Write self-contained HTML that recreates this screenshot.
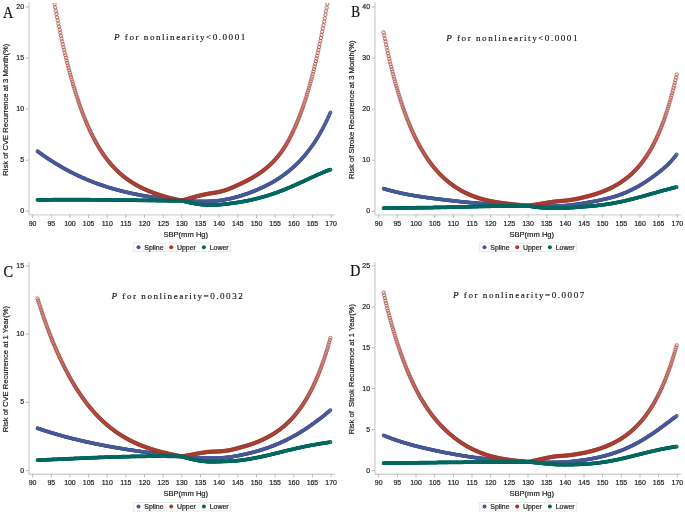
<!DOCTYPE html>
<html lang="en"><head><meta charset="utf-8"><title>SBP and risk of recurrence</title>
<style>
html,body{margin:0;padding:0;background:#fff}
body{width:685px;height:513px;overflow:hidden}
svg{display:block}
text{font-family:"Liberation Sans",sans-serif;fill:#1c1c1c;stroke:#1c1c1c;stroke-width:0.2px}
.t{font-size:6.95px}
.l{font-size:7.6px;white-space:pre}
.L{font-family:"Liberation Serif",serif;font-size:16px;fill:#111;stroke:#111;stroke-width:0.22px}
.p{font-family:"Liberation Serif",serif;font-size:9.1px;letter-spacing:1.52px;fill:#111;stroke:#111;stroke-width:0.14px}
</style></head><body>
<svg width="685" height="513" viewBox="0 0 685 513">
<defs><marker id="mb" markerWidth="6" markerHeight="6" refX="3" refY="3" markerUnits="userSpaceOnUse"><circle cx="3" cy="3" r="1.35" fill="#8f9bcb" fill-opacity="0.55" stroke="#445694" stroke-width="1.05"/></marker><marker id="mg" markerWidth="6" markerHeight="6" refX="3" refY="3" markerUnits="userSpaceOnUse"><circle cx="3" cy="3" r="1.35" fill="#5fa39d" fill-opacity="0.55" stroke="#01665E" stroke-width="1.05"/></marker><marker id="mr" markerWidth="6" markerHeight="6" refX="3" refY="3" markerUnits="userSpaceOnUse"><circle cx="3" cy="3" r="1.68" fill="#A23A2E" fill-opacity="0.10" stroke="#A23A2E" stroke-width="0.66"/></marker></defs>
<rect width="685" height="513" fill="#fff"/>
<g>
<clipPath id="cA"><rect x="28.9" y="3.0" width="309.1" height="212.2"/></clipPath>
<path d="M29.0 2.5V214.9H335.0" fill="none" stroke="#d4d4d6" stroke-width="1.4"/>
<path d="M32.6 214.7v3.2M51.3 214.7v3.2M69.9 214.7v3.2M88.6 214.7v3.2M107.2 214.7v3.2M125.9 214.7v3.2M144.5 214.7v3.2M163.2 214.7v3.2M181.8 214.7v3.2M200.5 214.7v3.2M219.1 214.7v3.2M237.8 214.7v3.2M256.5 214.7v3.2M275.1 214.7v3.2M293.8 214.7v3.2M312.4 214.7v3.2M331.1 214.7v3.2M28.9 211.2h-3.2M28.9 160.2h-3.2M28.9 109.1h-3.2M28.9 58.0h-3.2M28.9 7.0h-3.2" fill="none" stroke="#b0b0b0" stroke-width="0.9"/>
<text class="t" text-anchor="middle" transform="translate(32.60 225.70) scale(1.000 1)">90</text>
<text class="t" text-anchor="middle" transform="translate(51.26 225.70) scale(1.000 1)">95</text>
<text class="t" text-anchor="middle" transform="translate(69.91 225.70) scale(1.000 1)">100</text>
<text class="t" text-anchor="middle" transform="translate(88.56 225.70) scale(1.000 1)">105</text>
<text class="t" text-anchor="middle" transform="translate(107.22 225.70) scale(1.000 1)">110</text>
<text class="t" text-anchor="middle" transform="translate(125.88 225.70) scale(1.000 1)">115</text>
<text class="t" text-anchor="middle" transform="translate(144.53 225.70) scale(1.000 1)">120</text>
<text class="t" text-anchor="middle" transform="translate(163.19 225.70) scale(1.000 1)">125</text>
<text class="t" text-anchor="middle" transform="translate(181.84 225.70) scale(1.000 1)">130</text>
<text class="t" text-anchor="middle" transform="translate(200.49 225.70) scale(1.000 1)">135</text>
<text class="t" text-anchor="middle" transform="translate(219.15 225.70) scale(1.000 1)">140</text>
<text class="t" text-anchor="middle" transform="translate(237.80 225.70) scale(1.000 1)">145</text>
<text class="t" text-anchor="middle" transform="translate(256.46 225.70) scale(1.000 1)">150</text>
<text class="t" text-anchor="middle" transform="translate(275.12 225.70) scale(1.000 1)">155</text>
<text class="t" text-anchor="middle" transform="translate(293.77 225.70) scale(1.000 1)">160</text>
<text class="t" text-anchor="middle" transform="translate(312.43 225.70) scale(1.000 1)">165</text>
<text class="t" text-anchor="middle" transform="translate(331.08 225.70) scale(1.000 1)">170</text>
<text class="t" text-anchor="end" transform="translate(24.00 213.35) scale(1.000 1)">0</text>
<text class="t" text-anchor="end" transform="translate(24.00 162.28) scale(1.000 1)">5</text>
<text class="t" text-anchor="end" transform="translate(24.00 111.20) scale(1.000 1)">10</text>
<text class="t" text-anchor="end" transform="translate(24.00 60.13) scale(1.000 1)">15</text>
<text class="t" text-anchor="end" transform="translate(24.00 9.05) scale(1.000 1)">20</text>
<text class="l" text-anchor="middle" transform="translate(185.75 236.50) scale(1.000 1)">SBP(mm Hg)</text>
<text class="l" text-anchor="middle" transform="translate(7.50 109.70) rotate(-90) scale(1.000 1)">Risk of CVE Recurrence at 3 Month(%)</text>
<text class="L" x="3.0" y="17.8" textLength="10.2" lengthAdjust="spacingAndGlyphs">A</text>
<text class="p" x="114.0" y="40.3"><tspan font-style="italic">P</tspan> for nonlinearity&lt;0.0001</text>
<polyline clip-path="url(#cA)" points="37.45,151.19 38.08,151.65 38.72,152.12 39.35,152.57 39.99,153.03 40.62,153.48 41.26,153.94 41.89,154.38 42.52,154.83 43.16,155.27 43.79,155.71 44.43,156.15 45.06,156.59 45.7,157.02 46.33,157.45 46.96,157.88 47.6,158.3 48.23,158.72 48.87,159.14 49.5,159.56 50.14,159.97 50.77,160.38 51.4,160.79 52.04,161.2 52.67,161.6 53.31,162 53.94,162.4 54.58,162.79 55.21,163.19 55.84,163.58 56.48,163.96 57.11,164.35 57.75,164.73 58.38,165.11 59.02,165.49 59.65,165.86 60.28,166.23 60.92,166.6 61.55,166.97 62.19,167.33 62.82,167.69 63.46,168.05 64.09,168.41 64.72,168.76 65.36,169.11 65.99,169.46 66.63,169.81 67.26,170.15 67.9,170.49 68.53,170.83 69.16,171.16 69.8,171.49 70.43,171.82 71.07,172.15 71.7,172.48 72.34,172.8 72.97,173.12 73.6,173.43 74.24,173.75 74.87,174.06 75.51,174.37 76.14,174.68 76.78,174.98 77.41,175.29 78.04,175.59 78.68,175.88 79.31,176.18 79.95,176.47 80.58,176.76 81.21,177.05 81.85,177.34 82.48,177.62 83.12,177.9 83.75,178.18 84.39,178.45 85.02,178.73 85.65,179 86.29,179.27 86.92,179.53 87.56,179.8 88.19,180.06 88.83,180.32 89.46,180.58 90.09,180.83 90.73,181.09 91.36,181.34 92,181.59 92.63,181.83 93.27,182.08 93.9,182.32 94.53,182.56 95.17,182.8 95.8,183.03 96.44,183.27 97.07,183.5 97.71,183.73 98.34,183.96 98.97,184.18 99.61,184.41 100.24,184.63 100.88,184.85 101.51,185.06 102.15,185.28 102.78,185.49 103.41,185.7 104.05,185.91 104.68,186.12 105.32,186.33 105.95,186.53 106.59,186.73 107.22,186.93 107.85,187.13 108.49,187.33 109.12,187.52 109.76,187.71 110.39,187.9 111.03,188.09 111.66,188.28 112.29,188.47 112.93,188.65 113.56,188.83 114.2,189.01 114.83,189.19 115.47,189.37 116.1,189.54 116.73,189.71 117.37,189.89 118,190.06 118.64,190.22 119.27,190.39 119.91,190.55 120.54,190.72 121.17,190.88 121.81,191.04 122.44,191.2 123.08,191.36 123.71,191.51 124.35,191.66 124.98,191.82 125.61,191.97 126.25,192.12 126.88,192.26 127.52,192.41 128.15,192.56 128.79,192.7 129.42,192.84 130.05,192.98 130.69,193.12 131.32,193.26 131.96,193.39 132.59,193.53 133.23,193.66 133.86,193.8 134.49,193.93 135.13,194.06 135.76,194.18 136.4,194.31 137.03,194.44 137.66,194.56 138.3,194.68 138.93,194.8 139.57,194.92 140.2,195.04 140.84,195.16 141.47,195.28 142.1,195.39 142.74,195.51 143.37,195.62 144.01,195.73 144.64,195.84 145.28,195.95 145.91,196.06 146.54,196.17 147.18,196.27 147.81,196.38 148.45,196.48 149.08,196.59 149.72,196.69 150.35,196.79 150.98,196.89 151.62,196.99 152.25,197.08 152.89,197.18 153.52,197.27 154.16,197.37 154.79,197.46 155.42,197.55 156.06,197.64 156.69,197.73 157.33,197.82 157.96,197.91 158.6,198 159.23,198.09 159.86,198.17 160.5,198.25 161.13,198.34 161.77,198.42 162.4,198.5 163.04,198.58 163.67,198.66 164.3,198.74 164.94,198.82 165.57,198.9 166.21,198.98 166.84,199.05 167.48,199.13 168.11,199.2 168.74,199.27 169.38,199.34 170.01,199.41 170.65,199.48 171.28,199.55 171.92,199.61 172.55,199.67 173.18,199.73 173.82,199.79 174.45,199.85 175.09,199.9 175.72,199.96 176.36,200.01 176.99,200.07 177.62,200.12 178.26,200.17 178.89,200.22 179.53,200.27 180.16,200.32 180.8,200.36 181.43,200.41 182.06,200.46 182.7,200.51 183.33,200.55 183.97,200.6 184.6,200.65 185.24,200.69 185.87,200.74 186.5,200.78 187.14,200.82 187.77,200.86 188.41,200.9 189.04,200.94 189.68,200.98 190.31,201.01 190.94,201.05 191.58,201.08 192.21,201.12 192.85,201.15 193.48,201.18 194.11,201.2 194.75,201.23 195.38,201.26 196.02,201.28 196.65,201.3 197.29,201.32 197.92,201.34 198.55,201.35 199.19,201.36 199.82,201.37 200.46,201.38 201.09,201.38 201.73,201.38 202.36,201.38 202.99,201.38 203.63,201.38 204.26,201.37 204.9,201.36 205.53,201.35 206.17,201.34 206.8,201.33 207.43,201.32 208.07,201.3 208.7,201.28 209.34,201.26 209.97,201.24 210.61,201.21 211.24,201.18 211.87,201.15 212.51,201.11 213.14,201.07 213.78,201.02 214.41,200.97 215.05,200.92 215.68,200.86 216.31,200.8 216.95,200.74 217.58,200.67 218.22,200.6 218.85,200.52 219.49,200.45 220.12,200.36 220.75,200.28 221.39,200.19 222.02,200.09 222.66,200 223.29,199.89 223.93,199.79 224.56,199.68 225.19,199.57 225.83,199.45 226.46,199.33 227.1,199.21 227.73,199.08 228.37,198.95 229,198.82 229.63,198.68 230.27,198.54 230.9,198.4 231.54,198.25 232.17,198.1 232.81,197.95 233.44,197.8 234.07,197.64 234.71,197.47 235.34,197.31 235.98,197.14 236.61,196.97 237.25,196.79 237.88,196.61 238.51,196.43 239.15,196.25 239.78,196.06 240.42,195.87 241.05,195.67 241.69,195.47 242.32,195.27 242.95,195.06 243.59,194.86 244.22,194.65 244.86,194.43 245.49,194.22 246.13,194 246.76,193.78 247.39,193.55 248.03,193.33 248.66,193.1 249.3,192.87 249.93,192.63 250.57,192.39 251.2,192.16 251.83,191.91 252.47,191.67 253.1,191.42 253.74,191.17 254.37,190.92 255,190.66 255.64,190.4 256.27,190.14 256.91,189.87 257.54,189.6 258.18,189.33 258.81,189.05 259.44,188.77 260.08,188.49 260.71,188.21 261.35,187.92 261.98,187.62 262.62,187.32 263.25,187.02 263.88,186.72 264.52,186.41 265.15,186.1 265.79,185.78 266.42,185.46 267.06,185.14 267.69,184.81 268.32,184.48 268.96,184.14 269.59,183.8 270.23,183.45 270.86,183.1 271.5,182.75 272.13,182.39 272.76,182.02 273.4,181.66 274.03,181.28 274.67,180.9 275.3,180.52 275.94,180.13 276.57,179.74 277.2,179.34 277.84,178.94 278.47,178.53 279.11,178.11 279.74,177.69 280.38,177.26 281.01,176.83 281.64,176.39 282.28,175.95 282.91,175.5 283.55,175.04 284.18,174.58 284.82,174.11 285.45,173.63 286.08,173.15 286.72,172.66 287.35,172.17 287.99,171.66 288.62,171.15 289.26,170.64 289.89,170.11 290.52,169.58 291.16,169.04 291.79,168.49 292.43,167.94 293.06,167.37 293.7,166.8 294.33,166.22 294.96,165.63 295.6,165.03 296.23,164.43 296.87,163.81 297.5,163.19 298.14,162.55 298.77,161.91 299.4,161.26 300.04,160.59 300.67,159.92 301.31,159.24 301.94,158.54 302.58,157.84 303.21,157.12 303.84,156.4 304.48,155.66 305.11,154.91 305.75,154.15 306.38,153.38 307.02,152.59 307.65,151.79 308.28,150.98 308.92,150.16 309.55,149.33 310.19,148.48 310.82,147.61 311.45,146.74 312.09,145.84 312.72,144.94 313.36,144.02 313.99,143.08 314.63,142.13 315.26,141.16 315.89,140.18 316.53,139.18 317.16,138.16 317.8,137.13 318.43,136.08 319.07,135.01 319.7,133.92 320.33,132.81 320.97,131.69 321.6,130.54 322.24,129.38 322.87,128.2 323.51,126.99 324.14,125.76 324.77,124.52 325.41,123.25 326.04,121.96 326.68,120.64 327.31,119.31 327.95,117.95 328.58,116.56 329.21,115.16 329.85,113.73 330.48,112.27" fill="none" stroke="none" marker-start="url(#mb)" marker-mid="url(#mb)" marker-end="url(#mb)"/>
<polyline clip-path="url(#cA)" points="54.58,4.07 55.21,7.44 55.84,10.77 56.48,14.05 57.11,17.29 57.75,20.47 58.38,23.61 59.02,26.71 59.65,29.75 60.28,32.76 60.92,35.71 61.55,38.63 62.19,41.5 62.82,44.32 63.46,47.11 64.09,49.85 64.72,52.55 65.36,55.21 65.99,57.82 66.63,60.4 67.26,62.93 67.9,65.43 68.53,67.88 69.16,70.3 69.8,72.67 70.43,75.01 71.07,77.31 71.7,79.57 72.34,81.79 72.97,83.98 73.6,86.14 74.24,88.25 74.87,90.34 75.51,92.38 76.14,94.4 76.78,96.38 77.41,98.32 78.04,100.23 78.68,102.11 79.31,103.96 79.95,105.77 80.58,107.56 81.21,109.31 81.85,111.03 82.48,112.73 83.12,114.39 83.75,116.03 84.39,117.63 85.02,119.21 85.65,120.76 86.29,122.28 86.92,123.78 87.56,125.25 88.19,126.69 88.83,128.11 89.46,129.5 90.09,130.86 90.73,132.21 91.36,133.52 92,134.82 92.63,136.09 93.27,137.34 93.9,138.56 94.53,139.76 95.17,140.94 95.8,142.1 96.44,143.24 97.07,144.36 97.71,145.45 98.34,146.53 98.97,147.58 99.61,148.62 100.24,149.63 100.88,150.63 101.51,151.61 102.15,152.57 102.78,153.52 103.41,154.44 104.05,155.35 104.68,156.24 105.32,157.12 105.95,157.97 106.59,158.81 107.22,159.64 107.85,160.45 108.49,161.25 109.12,162.02 109.76,162.79 110.39,163.54 111.03,164.28 111.66,165 112.29,165.71 112.93,166.41 113.56,167.09 114.2,167.77 114.83,168.42 115.47,169.07 116.1,169.71 116.73,170.33 117.37,170.94 118,171.54 118.64,172.14 119.27,172.71 119.91,173.28 120.54,173.84 121.17,174.39 121.81,174.93 122.44,175.46 123.08,175.98 123.71,176.49 124.35,177 124.98,177.49 125.61,177.97 126.25,178.45 126.88,178.92 127.52,179.38 128.15,179.83 128.79,180.27 129.42,180.71 130.05,181.14 130.69,181.56 131.32,181.97 131.96,182.38 132.59,182.78 133.23,183.18 133.86,183.56 134.49,183.94 135.13,184.32 135.76,184.68 136.4,185.05 137.03,185.4 137.66,185.75 138.3,186.09 138.93,186.43 139.57,186.76 140.2,187.09 140.84,187.41 141.47,187.73 142.1,188.04 142.74,188.35 143.37,188.65 144.01,188.95 144.64,189.24 145.28,189.52 145.91,189.81 146.54,190.09 147.18,190.36 147.81,190.63 148.45,190.89 149.08,191.15 149.72,191.41 150.35,191.66 150.98,191.91 151.62,192.16 152.25,192.4 152.89,192.64 153.52,192.88 154.16,193.11 154.79,193.34 155.42,193.57 156.06,193.79 156.69,194.01 157.33,194.23 157.96,194.44 158.6,194.65 159.23,194.86 159.86,195.07 160.5,195.27 161.13,195.47 161.77,195.67 162.4,195.86 163.04,196.06 163.67,196.25 164.3,196.44 164.94,196.63 165.57,196.82 166.21,197 166.84,197.18 167.48,197.36 168.11,197.54 168.74,197.71 169.38,197.88 170.01,198.05 170.65,198.21 171.28,198.37 171.92,198.53 172.55,198.68 173.18,198.83 173.82,198.98 174.45,199.12 175.09,199.26 175.72,199.4 176.36,199.53 176.99,199.66 177.62,199.79 178.26,199.91 178.89,200.04 179.53,200.16 180.16,200.28 180.8,200.39 181.43,200.51 182.06,200.53 182.7,200.35 183.33,200.17 183.97,199.98 184.6,199.8 185.24,199.61 185.87,199.43 186.5,199.24 187.14,199.06 187.77,198.88 188.41,198.69 189.04,198.51 189.68,198.33 190.31,198.15 190.94,197.96 191.58,197.78 192.21,197.6 192.85,197.43 193.48,197.25 194.11,197.07 194.75,196.9 195.38,196.72 196.02,196.55 196.65,196.38 197.29,196.21 197.92,196.04 198.55,195.88 199.19,195.72 199.82,195.56 200.46,195.41 201.09,195.26 201.73,195.12 202.36,194.97 202.99,194.83 203.63,194.7 204.26,194.56 204.9,194.43 205.53,194.3 206.17,194.17 206.8,194.05 207.43,193.93 208.07,193.81 208.7,193.69 209.34,193.58 209.97,193.47 210.61,193.36 211.24,193.25 211.87,193.15 212.51,193.05 213.14,192.95 213.78,192.86 214.41,192.76 215.05,192.66 215.68,192.56 216.31,192.45 216.95,192.34 217.58,192.23 218.22,192.11 218.85,191.98 219.49,191.84 220.12,191.7 220.75,191.54 221.39,191.38 222.02,191.21 222.66,191.03 223.29,190.84 223.93,190.64 224.56,190.44 225.19,190.24 225.83,190.02 226.46,189.8 227.1,189.58 227.73,189.35 228.37,189.12 229,188.88 229.63,188.63 230.27,188.38 230.9,188.13 231.54,187.87 232.17,187.6 232.81,187.32 233.44,187.05 234.07,186.77 234.71,186.48 235.34,186.19 235.98,185.91 236.61,185.61 237.25,185.32 237.88,185.03 238.51,184.74 239.15,184.45 239.78,184.15 240.42,183.86 241.05,183.56 241.69,183.26 242.32,182.96 242.95,182.66 243.59,182.35 244.22,182.04 244.86,181.73 245.49,181.41 246.13,181.09 246.76,180.77 247.39,180.44 248.03,180.1 248.66,179.77 249.3,179.43 249.93,179.08 250.57,178.73 251.2,178.38 251.83,178.02 252.47,177.65 253.1,177.28 253.74,176.91 254.37,176.53 255,176.14 255.64,175.75 256.27,175.35 256.91,174.95 257.54,174.54 258.18,174.12 258.81,173.7 259.44,173.27 260.08,172.83 260.71,172.39 261.35,171.94 261.98,171.48 262.62,171.01 263.25,170.53 263.88,170.05 264.52,169.55 265.15,169.05 265.79,168.54 266.42,168.01 267.06,167.48 267.69,166.94 268.32,166.38 268.96,165.82 269.59,165.24 270.23,164.65 270.86,164.05 271.5,163.44 272.13,162.81 272.76,162.17 273.4,161.52 274.03,160.85 274.67,160.17 275.3,159.47 275.94,158.76 276.57,158.03 277.2,157.28 277.84,156.51 278.47,155.73 279.11,154.93 279.74,154.11 280.38,153.27 281.01,152.41 281.64,151.53 282.28,150.63 282.91,149.71 283.55,148.76 284.18,147.79 284.82,146.8 285.45,145.77 286.08,144.72 286.72,143.65 287.35,142.54 287.99,141.41 288.62,140.25 289.26,139.07 289.89,137.85 290.52,136.62 291.16,135.35 291.79,134.07 292.43,132.75 293.06,131.42 293.7,130.06 294.33,128.67 294.96,127.26 295.6,125.83 296.23,124.37 296.87,122.88 297.5,121.36 298.14,119.81 298.77,118.23 299.4,116.62 300.04,114.98 300.67,113.3 301.31,111.59 301.94,109.85 302.58,108.06 303.21,106.24 303.84,104.39 304.48,102.49 305.11,100.55 305.75,98.58 306.38,96.56 307.02,94.5 307.65,92.4 308.28,90.26 308.92,88.08 309.55,85.85 310.19,83.59 310.82,81.28 311.45,78.93 312.09,76.53 312.72,74.09 313.36,71.61 313.99,69.07 314.63,66.5 315.26,63.87 315.89,61.2 316.53,58.47 317.16,55.7 317.8,52.87 318.43,50 319.07,47.07 319.7,44.09 320.33,41.06 320.97,37.98 321.6,34.84 322.24,31.65 322.87,28.4 323.51,25.1 324.14,21.74 324.77,18.32 325.41,14.84 326.04,11.3 326.68,7.69 327.31,4.03" fill="none" stroke="none" marker-start="url(#mr)" marker-mid="url(#mr)" marker-end="url(#mr)"/>
<polyline clip-path="url(#cA)" points="37.45,199.87 38.08,199.86 38.72,199.86 39.35,199.85 39.99,199.84 40.62,199.84 41.26,199.83 41.89,199.82 42.52,199.82 43.16,199.81 43.79,199.81 44.43,199.8 45.06,199.8 45.7,199.79 46.33,199.78 46.96,199.78 47.6,199.77 48.23,199.77 48.87,199.76 49.5,199.76 50.14,199.76 50.77,199.75 51.4,199.75 52.04,199.74 52.67,199.74 53.31,199.74 53.94,199.73 54.58,199.73 55.21,199.73 55.84,199.72 56.48,199.72 57.11,199.72 57.75,199.71 58.38,199.71 59.02,199.71 59.65,199.71 60.28,199.7 60.92,199.7 61.55,199.7 62.19,199.7 62.82,199.7 63.46,199.7 64.09,199.7 64.72,199.69 65.36,199.69 65.99,199.69 66.63,199.69 67.26,199.69 67.9,199.69 68.53,199.69 69.16,199.69 69.8,199.69 70.43,199.69 71.07,199.69 71.7,199.69 72.34,199.69 72.97,199.69 73.6,199.69 74.24,199.69 74.87,199.69 75.51,199.69 76.14,199.69 76.78,199.7 77.41,199.7 78.04,199.7 78.68,199.7 79.31,199.7 79.95,199.7 80.58,199.7 81.21,199.71 81.85,199.71 82.48,199.71 83.12,199.71 83.75,199.72 84.39,199.72 85.02,199.72 85.65,199.72 86.29,199.73 86.92,199.73 87.56,199.73 88.19,199.74 88.83,199.74 89.46,199.74 90.09,199.75 90.73,199.75 91.36,199.75 92,199.76 92.63,199.76 93.27,199.77 93.9,199.77 94.53,199.78 95.17,199.78 95.8,199.78 96.44,199.79 97.07,199.79 97.71,199.8 98.34,199.8 98.97,199.81 99.61,199.81 100.24,199.82 100.88,199.82 101.51,199.83 102.15,199.84 102.78,199.84 103.41,199.85 104.05,199.85 104.68,199.86 105.32,199.86 105.95,199.87 106.59,199.88 107.22,199.88 107.85,199.89 108.49,199.9 109.12,199.9 109.76,199.91 110.39,199.92 111.03,199.92 111.66,199.93 112.29,199.94 112.93,199.94 113.56,199.95 114.2,199.96 114.83,199.96 115.47,199.97 116.1,199.98 116.73,199.99 117.37,199.99 118,200 118.64,200.01 119.27,200.02 119.91,200.02 120.54,200.03 121.17,200.04 121.81,200.05 122.44,200.06 123.08,200.06 123.71,200.07 124.35,200.08 124.98,200.09 125.61,200.1 126.25,200.1 126.88,200.11 127.52,200.12 128.15,200.13 128.79,200.14 129.42,200.14 130.05,200.15 130.69,200.16 131.32,200.17 131.96,200.18 132.59,200.19 133.23,200.2 133.86,200.2 134.49,200.21 135.13,200.22 135.76,200.23 136.4,200.24 137.03,200.25 137.66,200.25 138.3,200.26 138.93,200.27 139.57,200.28 140.2,200.29 140.84,200.3 141.47,200.3 142.1,200.31 142.74,200.32 143.37,200.33 144.01,200.34 144.64,200.35 145.28,200.36 145.91,200.36 146.54,200.37 147.18,200.38 147.81,200.39 148.45,200.4 149.08,200.41 149.72,200.41 150.35,200.42 150.98,200.43 151.62,200.44 152.25,200.45 152.89,200.45 153.52,200.46 154.16,200.47 154.79,200.48 155.42,200.49 156.06,200.49 156.69,200.5 157.33,200.51 157.96,200.52 158.6,200.53 159.23,200.53 159.86,200.54 160.5,200.55 161.13,200.56 161.77,200.56 162.4,200.57 163.04,200.58 163.67,200.59 164.3,200.6 164.94,200.6 165.57,200.61 166.21,200.62 166.84,200.63 167.48,200.64 168.11,200.64 168.74,200.65 169.38,200.66 170.01,200.66 170.65,200.67 171.28,200.67 171.92,200.67 172.55,200.67 173.18,200.67 173.82,200.67 174.45,200.67 175.09,200.67 175.72,200.66 176.36,200.66 176.99,200.65 177.62,200.65 178.26,200.64 178.89,200.63 179.53,200.62 180.16,200.61 180.8,200.6 181.43,200.59 182.06,200.65 182.7,200.84 183.33,201.02 183.97,201.2 184.6,201.38 185.24,201.55 185.87,201.71 186.5,201.87 187.14,202.03 187.77,202.18 188.41,202.32 189.04,202.46 189.68,202.6 190.31,202.74 190.94,202.87 191.58,203 192.21,203.12 192.85,203.24 193.48,203.36 194.11,203.48 194.75,203.59 195.38,203.7 196.02,203.8 196.65,203.9 197.29,204 197.92,204.09 198.55,204.17 199.19,204.26 199.82,204.33 200.46,204.41 201.09,204.47 201.73,204.54 202.36,204.6 202.99,204.66 203.63,204.72 204.26,204.78 204.9,204.83 205.53,204.87 206.17,204.92 206.8,204.95 207.43,204.98 208.07,205.01 208.7,205.03 209.34,205.04 209.97,205.04 210.61,205.04 211.24,205.04 211.87,205.02 212.51,205.01 213.14,204.99 213.78,204.96 214.41,204.93 215.05,204.9 215.68,204.86 216.31,204.83 216.95,204.79 217.58,204.75 218.22,204.71 218.85,204.66 219.49,204.61 220.12,204.56 220.75,204.51 221.39,204.46 222.02,204.4 222.66,204.34 223.29,204.27 223.93,204.2 224.56,204.13 225.19,204.06 225.83,203.99 226.46,203.92 227.1,203.84 227.73,203.76 228.37,203.69 229,203.61 229.63,203.53 230.27,203.45 230.9,203.37 231.54,203.29 232.17,203.21 232.81,203.12 233.44,203.04 234.07,202.95 234.71,202.86 235.34,202.77 235.98,202.68 236.61,202.59 237.25,202.49 237.88,202.39 238.51,202.29 239.15,202.19 239.78,202.09 240.42,201.98 241.05,201.87 241.69,201.76 242.32,201.65 242.95,201.54 243.59,201.42 244.22,201.3 244.86,201.18 245.49,201.06 246.13,200.94 246.76,200.81 247.39,200.68 248.03,200.56 248.66,200.43 249.3,200.29 249.93,200.16 250.57,200.02 251.2,199.88 251.83,199.74 252.47,199.6 253.1,199.45 253.74,199.31 254.37,199.16 255,199.01 255.64,198.85 256.27,198.7 256.91,198.54 257.54,198.38 258.18,198.22 258.81,198.05 259.44,197.89 260.08,197.72 260.71,197.55 261.35,197.37 261.98,197.2 262.62,197.02 263.25,196.84 263.88,196.66 264.52,196.48 265.15,196.29 265.79,196.1 266.42,195.91 267.06,195.72 267.69,195.52 268.32,195.32 268.96,195.12 269.59,194.92 270.23,194.72 270.86,194.51 271.5,194.3 272.13,194.09 272.76,193.87 273.4,193.66 274.03,193.44 274.67,193.22 275.3,193 275.94,192.77 276.57,192.54 277.2,192.31 277.84,192.08 278.47,191.85 279.11,191.61 279.74,191.37 280.38,191.13 281.01,190.89 281.64,190.64 282.28,190.4 282.91,190.15 283.55,189.9 284.18,189.65 284.82,189.39 285.45,189.14 286.08,188.88 286.72,188.62 287.35,188.36 287.99,188.09 288.62,187.83 289.26,187.56 289.89,187.29 290.52,187.02 291.16,186.75 291.79,186.47 292.43,186.2 293.06,185.92 293.7,185.65 294.33,185.37 294.96,185.09 295.6,184.8 296.23,184.52 296.87,184.24 297.5,183.95 298.14,183.66 298.77,183.38 299.4,183.09 300.04,182.8 300.67,182.51 301.31,182.22 301.94,181.93 302.58,181.63 303.21,181.34 303.84,181.05 304.48,180.76 305.11,180.46 305.75,180.17 306.38,179.87 307.02,179.58 307.65,179.28 308.28,178.99 308.92,178.69 309.55,178.4 310.19,178.11 310.82,177.81 311.45,177.52 312.09,177.23 312.72,176.94 313.36,176.65 313.99,176.36 314.63,176.07 315.26,175.79 315.89,175.5 316.53,175.21 317.16,174.93 317.8,174.65 318.43,174.37 319.07,174.09 319.7,173.81 320.33,173.54 320.97,173.27 321.6,173 322.24,172.73 322.87,172.47 323.51,172.21 324.14,171.95 324.77,171.69 325.41,171.44 326.04,171.19 326.68,170.94 327.31,170.69 327.95,170.45 328.58,170.21 329.21,169.97 329.85,169.73 330.48,169.5" fill="none" stroke="none" marker-start="url(#mg)" marker-mid="url(#mg)" marker-end="url(#mg)"/>
<rect x="133.2" y="243.0" width="97.6" height="8.6" fill="#fff" stroke="#e0e0e0" stroke-width="0.7"/>
<circle cx="138.5" cy="247.2" r="2.0" fill="#445694"/>
<text class="t" text-anchor="start" transform="translate(144.30 249.70) scale(1.000 1)">Spline</text>
<circle cx="171.2" cy="247.2" r="2.0" fill="#A23A2E"/>
<text class="t" text-anchor="start" transform="translate(177.00 249.70) scale(1.000 1)">Upper</text>
<circle cx="203.9" cy="247.2" r="2.0" fill="#01665E"/>
<text class="t" text-anchor="start" transform="translate(209.70 249.70) scale(1.000 1)">Lower</text>
</g>
<g>
<clipPath id="cB"><rect x="374.9" y="3.0" width="309.1" height="212.2"/></clipPath>
<path d="M375.0 2.5V214.9H681.0" fill="none" stroke="#d4d4d6" stroke-width="1.4"/>
<path d="M378.7 214.7v3.2M397.4 214.7v3.2M416.0 214.7v3.2M434.7 214.7v3.2M453.4 214.7v3.2M472.0 214.7v3.2M490.7 214.7v3.2M509.3 214.7v3.2M528.0 214.7v3.2M546.7 214.7v3.2M565.3 214.7v3.2M584.0 214.7v3.2M602.6 214.7v3.2M621.3 214.7v3.2M640.0 214.7v3.2M658.6 214.7v3.2M677.3 214.7v3.2M374.9 211.2h-3.2M374.9 160.2h-3.2M374.9 109.1h-3.2M374.9 58.0h-3.2M374.9 7.0h-3.2" fill="none" stroke="#b0b0b0" stroke-width="0.9"/>
<text class="t" text-anchor="middle" transform="translate(378.70 225.70) scale(1.000 1)">90</text>
<text class="t" text-anchor="middle" transform="translate(397.36 225.70) scale(1.000 1)">95</text>
<text class="t" text-anchor="middle" transform="translate(416.02 225.70) scale(1.000 1)">100</text>
<text class="t" text-anchor="middle" transform="translate(434.69 225.70) scale(1.000 1)">105</text>
<text class="t" text-anchor="middle" transform="translate(453.35 225.70) scale(1.000 1)">110</text>
<text class="t" text-anchor="middle" transform="translate(472.01 225.70) scale(1.000 1)">115</text>
<text class="t" text-anchor="middle" transform="translate(490.67 225.70) scale(1.000 1)">120</text>
<text class="t" text-anchor="middle" transform="translate(509.34 225.70) scale(1.000 1)">125</text>
<text class="t" text-anchor="middle" transform="translate(528.00 225.70) scale(1.000 1)">130</text>
<text class="t" text-anchor="middle" transform="translate(546.66 225.70) scale(1.000 1)">135</text>
<text class="t" text-anchor="middle" transform="translate(565.33 225.70) scale(1.000 1)">140</text>
<text class="t" text-anchor="middle" transform="translate(583.99 225.70) scale(1.000 1)">145</text>
<text class="t" text-anchor="middle" transform="translate(602.65 225.70) scale(1.000 1)">150</text>
<text class="t" text-anchor="middle" transform="translate(621.31 225.70) scale(1.000 1)">155</text>
<text class="t" text-anchor="middle" transform="translate(639.97 225.70) scale(1.000 1)">160</text>
<text class="t" text-anchor="middle" transform="translate(658.64 225.70) scale(1.000 1)">165</text>
<text class="t" text-anchor="middle" transform="translate(677.30 225.70) scale(1.000 1)">170</text>
<text class="t" text-anchor="end" transform="translate(370.00 213.35) scale(1.000 1)">0</text>
<text class="t" text-anchor="end" transform="translate(370.00 162.28) scale(1.000 1)">10</text>
<text class="t" text-anchor="end" transform="translate(370.00 111.20) scale(1.000 1)">20</text>
<text class="t" text-anchor="end" transform="translate(370.00 60.13) scale(1.000 1)">30</text>
<text class="t" text-anchor="end" transform="translate(370.00 9.05) scale(1.000 1)">40</text>
<text class="l" text-anchor="middle" transform="translate(531.75 236.50) scale(1.000 1)">SBP(mm Hg)</text>
<text class="l" text-anchor="middle" transform="translate(353.50 109.70) rotate(-90) scale(1.000 1)">Risk of Stroke Recurrence at 3 Month(%)</text>
<text class="L" x="351.2" y="17.4" textLength="8.8" lengthAdjust="spacingAndGlyphs">B</text>
<text class="p" x="446.2" y="41.1"><tspan font-style="italic">P</tspan> for nonlinearity&lt;0.0001</text>
<polyline clip-path="url(#cB)" points="383.55,188.58 384.19,188.78 384.82,188.97 385.46,189.16 386.09,189.35 386.72,189.53 387.36,189.71 387.99,189.89 388.63,190.07 389.26,190.24 389.9,190.42 390.53,190.59 391.17,190.75 391.8,190.92 392.44,191.08 393.07,191.24 393.7,191.4 394.34,191.56 394.97,191.71 395.61,191.87 396.24,192.02 396.88,192.17 397.51,192.31 398.15,192.46 398.78,192.6 399.42,192.74 400.05,192.88 400.68,193.02 401.32,193.15 401.95,193.29 402.59,193.42 403.22,193.55 403.86,193.68 404.49,193.81 405.13,193.93 405.76,194.06 406.4,194.18 407.03,194.3 407.66,194.42 408.3,194.54 408.93,194.66 409.57,194.77 410.2,194.89 410.84,195 411.47,195.11 412.11,195.23 412.74,195.34 413.37,195.45 414.01,195.55 414.64,195.66 415.28,195.77 415.91,195.87 416.55,195.97 417.18,196.08 417.82,196.18 418.45,196.28 419.09,196.38 419.72,196.48 420.35,196.58 420.99,196.67 421.62,196.77 422.26,196.87 422.89,196.96 423.53,197.05 424.16,197.15 424.8,197.24 425.43,197.33 426.07,197.42 426.7,197.51 427.33,197.6 427.97,197.69 428.6,197.78 429.24,197.86 429.87,197.95 430.51,198.04 431.14,198.12 431.78,198.21 432.41,198.29 433.05,198.37 433.68,198.46 434.31,198.54 434.95,198.62 435.58,198.7 436.22,198.79 436.85,198.87 437.49,198.95 438.12,199.03 438.76,199.1 439.39,199.18 440.02,199.26 440.66,199.34 441.29,199.42 441.93,199.49 442.56,199.57 443.2,199.65 443.83,199.72 444.47,199.8 445.1,199.87 445.74,199.95 446.37,200.02 447,200.09 447.64,200.17 448.27,200.24 448.91,200.31 449.54,200.39 450.18,200.46 450.81,200.53 451.45,200.6 452.08,200.67 452.72,200.74 453.35,200.81 453.98,200.88 454.62,200.95 455.25,201.02 455.89,201.09 456.52,201.16 457.16,201.23 457.79,201.3 458.43,201.37 459.06,201.44 459.7,201.5 460.33,201.57 460.96,201.64 461.6,201.7 462.23,201.77 462.87,201.83 463.5,201.9 464.14,201.96 464.77,202.02 465.41,202.09 466.04,202.15 466.68,202.21 467.31,202.27 467.94,202.33 468.58,202.39 469.21,202.45 469.85,202.51 470.48,202.57 471.12,202.63 471.75,202.69 472.39,202.74 473.02,202.8 473.65,202.86 474.29,202.91 474.92,202.96 475.56,203.02 476.19,203.07 476.83,203.12 477.46,203.18 478.1,203.23 478.73,203.28 479.37,203.33 480,203.38 480.63,203.43 481.27,203.47 481.9,203.52 482.54,203.57 483.17,203.61 483.81,203.66 484.44,203.7 485.08,203.75 485.71,203.79 486.35,203.83 486.98,203.88 487.61,203.92 488.25,203.96 488.88,204 489.52,204.04 490.15,204.08 490.79,204.11 491.42,204.15 492.06,204.19 492.69,204.22 493.33,204.26 493.96,204.29 494.59,204.33 495.23,204.36 495.86,204.39 496.5,204.43 497.13,204.46 497.77,204.49 498.4,204.52 499.04,204.55 499.67,204.58 500.3,204.61 500.94,204.64 501.57,204.67 502.21,204.7 502.84,204.73 503.48,204.76 504.11,204.78 504.75,204.81 505.38,204.84 506.02,204.86 506.65,204.89 507.28,204.92 507.92,204.94 508.55,204.97 509.19,205 509.82,205.02 510.46,205.05 511.09,205.07 511.73,205.1 512.36,205.12 513,205.15 513.63,205.17 514.26,205.2 514.9,205.22 515.53,205.24 516.17,205.27 516.8,205.29 517.44,205.31 518.07,205.33 518.71,205.35 519.34,205.37 519.98,205.39 520.61,205.41 521.24,205.43 521.88,205.45 522.51,205.46 523.15,205.48 523.78,205.5 524.42,205.52 525.05,205.54 525.69,205.55 526.32,205.57 526.95,205.59 527.59,205.62 528.22,205.64 528.86,205.66 529.49,205.68 530.13,205.71 530.76,205.73 531.4,205.76 532.03,205.78 532.67,205.81 533.3,205.83 533.93,205.86 534.57,205.88 535.2,205.9 535.84,205.92 536.47,205.94 537.11,205.96 537.74,205.98 538.38,205.99 539.01,206.01 539.65,206.02 540.28,206.03 540.91,206.04 541.55,206.05 542.18,206.06 542.82,206.07 543.45,206.08 544.09,206.08 544.72,206.09 545.36,206.09 545.99,206.09 546.63,206.09 547.26,206.09 547.89,206.09 548.53,206.09 549.16,206.08 549.8,206.08 550.43,206.07 551.07,206.06 551.7,206.05 552.34,206.04 552.97,206.03 553.6,206.02 554.24,206.01 554.87,206 555.51,205.98 556.14,205.97 556.78,205.95 557.41,205.93 558.05,205.91 558.68,205.89 559.32,205.87 559.95,205.84 560.58,205.82 561.22,205.79 561.85,205.76 562.49,205.72 563.12,205.69 563.76,205.65 564.39,205.61 565.03,205.57 565.66,205.53 566.3,205.48 566.93,205.43 567.56,205.37 568.2,205.32 568.83,205.25 569.47,205.19 570.1,205.12 570.74,205.05 571.37,204.98 572.01,204.9 572.64,204.82 573.28,204.74 573.91,204.66 574.54,204.58 575.18,204.49 575.81,204.41 576.45,204.32 577.08,204.23 577.72,204.13 578.35,204.04 578.99,203.94 579.62,203.84 580.26,203.74 580.89,203.64 581.52,203.54 582.16,203.44 582.79,203.33 583.43,203.22 584.06,203.12 584.7,203.01 585.33,202.9 585.97,202.79 586.6,202.67 587.23,202.56 587.87,202.45 588.5,202.33 589.14,202.22 589.77,202.1 590.41,201.98 591.04,201.86 591.68,201.75 592.31,201.63 592.95,201.51 593.58,201.38 594.21,201.26 594.85,201.14 595.48,201.02 596.12,200.9 596.75,200.77 597.39,200.65 598.02,200.52 598.66,200.39 599.29,200.27 599.93,200.14 600.56,200 601.19,199.87 601.83,199.74 602.46,199.6 603.1,199.46 603.73,199.32 604.37,199.18 605,199.03 605.64,198.89 606.27,198.74 606.91,198.59 607.54,198.43 608.17,198.28 608.81,198.12 609.44,197.96 610.08,197.79 610.71,197.62 611.35,197.45 611.98,197.27 612.62,197.09 613.25,196.91 613.88,196.72 614.52,196.53 615.15,196.34 615.79,196.14 616.42,195.93 617.06,195.73 617.69,195.51 618.33,195.3 618.96,195.08 619.6,194.86 620.23,194.63 620.86,194.39 621.5,194.16 622.13,193.92 622.77,193.67 623.4,193.42 624.04,193.17 624.67,192.91 625.31,192.64 625.94,192.37 626.58,192.1 627.21,191.82 627.84,191.54 628.48,191.25 629.11,190.96 629.75,190.66 630.38,190.36 631.02,190.06 631.65,189.75 632.29,189.43 632.92,189.11 633.56,188.79 634.19,188.46 634.82,188.13 635.46,187.79 636.09,187.45 636.73,187.1 637.36,186.75 638,186.39 638.63,186.03 639.27,185.66 639.9,185.29 640.53,184.92 641.17,184.54 641.8,184.16 642.44,183.77 643.07,183.37 643.71,182.97 644.34,182.57 644.98,182.16 645.61,181.75 646.25,181.34 646.88,180.92 647.51,180.49 648.15,180.06 648.78,179.63 649.42,179.19 650.05,178.75 650.69,178.31 651.32,177.86 651.96,177.41 652.59,176.95 653.23,176.49 653.86,176.03 654.49,175.56 655.13,175.09 655.76,174.61 656.4,174.13 657.03,173.64 657.67,173.16 658.3,172.66 658.94,172.17 659.57,171.67 660.21,171.16 660.84,170.65 661.47,170.14 662.11,169.62 662.74,169.1 663.38,168.56 664.01,168.02 664.65,167.47 665.28,166.91 665.92,166.34 666.55,165.76 667.18,165.16 667.82,164.55 668.45,163.93 669.09,163.29 669.72,162.63 670.36,161.96 670.99,161.27 671.63,160.57 672.26,159.85 672.9,159.12 673.53,158.37 674.16,157.6 674.8,156.82 675.43,156.02 676.07,155.2 676.7,154.37" fill="none" stroke="none" marker-start="url(#mb)" marker-mid="url(#mb)" marker-end="url(#mb)"/>
<polyline clip-path="url(#cB)" points="383.55,32.37 384.19,35.53 384.82,38.63 385.46,41.68 386.09,44.67 386.72,47.61 387.36,50.5 387.99,53.33 388.63,56.12 389.26,58.85 389.9,61.54 390.53,64.18 391.17,66.77 391.8,69.32 392.44,71.82 393.07,74.27 393.7,76.69 394.34,79.06 394.97,81.38 395.61,83.67 396.24,85.91 396.88,88.12 397.51,90.29 398.15,92.42 398.78,94.51 399.42,96.56 400.05,98.58 400.68,100.56 401.32,102.5 401.95,104.41 402.59,106.29 403.22,108.14 403.86,109.95 404.49,111.73 405.13,113.47 405.76,115.19 406.4,116.88 407.03,118.53 407.66,120.16 408.3,121.76 408.93,123.33 409.57,124.87 410.2,126.39 410.84,127.88 411.47,129.34 412.11,130.77 412.74,132.19 413.37,133.57 414.01,134.93 414.64,136.27 415.28,137.58 415.91,138.87 416.55,140.14 417.18,141.39 417.82,142.61 418.45,143.81 419.09,144.99 419.72,146.15 420.35,147.29 420.99,148.41 421.62,149.51 422.26,150.59 422.89,151.65 423.53,152.69 424.16,153.72 424.8,154.72 425.43,155.71 426.07,156.68 426.7,157.64 427.33,158.57 427.97,159.49 428.6,160.4 429.24,161.28 429.87,162.16 430.51,163.01 431.14,163.86 431.78,164.68 432.41,165.5 433.05,166.29 433.68,167.08 434.31,167.85 434.95,168.61 435.58,169.35 436.22,170.08 436.85,170.8 437.49,171.5 438.12,172.2 438.76,172.88 439.39,173.54 440.02,174.2 440.66,174.85 441.29,175.48 441.93,176.1 442.56,176.71 443.2,177.32 443.83,177.91 444.47,178.49 445.1,179.06 445.74,179.62 446.37,180.17 447,180.71 447.64,181.24 448.27,181.76 448.91,182.27 449.54,182.78 450.18,183.27 450.81,183.76 451.45,184.23 452.08,184.7 452.72,185.16 453.35,185.61 453.98,186.06 454.62,186.49 455.25,186.92 455.89,187.34 456.52,187.76 457.16,188.16 457.79,188.56 458.43,188.95 459.06,189.34 459.7,189.71 460.33,190.08 460.96,190.44 461.6,190.8 462.23,191.15 462.87,191.49 463.5,191.82 464.14,192.15 464.77,192.47 465.41,192.79 466.04,193.1 466.68,193.4 467.31,193.7 467.94,193.99 468.58,194.27 469.21,194.55 469.85,194.82 470.48,195.09 471.12,195.35 471.75,195.61 472.39,195.86 473.02,196.11 473.65,196.35 474.29,196.58 474.92,196.81 475.56,197.04 476.19,197.26 476.83,197.48 477.46,197.69 478.1,197.89 478.73,198.09 479.37,198.29 480,198.48 480.63,198.67 481.27,198.86 481.9,199.04 482.54,199.21 483.17,199.38 483.81,199.55 484.44,199.72 485.08,199.88 485.71,200.03 486.35,200.19 486.98,200.34 487.61,200.48 488.25,200.62 488.88,200.76 489.52,200.9 490.15,201.03 490.79,201.16 491.42,201.29 492.06,201.41 492.69,201.53 493.33,201.65 493.96,201.76 494.59,201.87 495.23,201.98 495.86,202.09 496.5,202.19 497.13,202.3 497.77,202.4 498.4,202.49 499.04,202.59 499.67,202.68 500.3,202.78 500.94,202.87 501.57,202.96 502.21,203.04 502.84,203.13 503.48,203.21 504.11,203.3 504.75,203.38 505.38,203.46 506.02,203.53 506.65,203.61 507.28,203.69 507.92,203.76 508.55,203.84 509.19,203.91 509.82,203.98 510.46,204.05 511.09,204.12 511.73,204.19 512.36,204.26 513,204.33 513.63,204.4 514.26,204.46 514.9,204.53 515.53,204.59 516.17,204.66 516.8,204.72 517.44,204.78 518.07,204.84 518.71,204.9 519.34,204.96 519.98,205.02 520.61,205.08 521.24,205.13 521.88,205.19 522.51,205.24 523.15,205.3 523.78,205.35 524.42,205.4 525.05,205.46 525.69,205.51 526.32,205.56 526.95,205.61 527.59,205.66 528.22,205.66 528.86,205.59 529.49,205.51 530.13,205.43 530.76,205.34 531.4,205.26 532.03,205.17 532.67,205.09 533.3,205 533.93,204.91 534.57,204.82 535.2,204.72 535.84,204.63 536.47,204.53 537.11,204.43 537.74,204.33 538.38,204.23 539.01,204.12 539.65,204.01 540.28,203.9 540.91,203.79 541.55,203.67 542.18,203.56 542.82,203.44 543.45,203.33 544.09,203.21 544.72,203.1 545.36,202.99 545.99,202.88 546.63,202.78 547.26,202.67 547.89,202.57 548.53,202.47 549.16,202.37 549.8,202.27 550.43,202.18 551.07,202.09 551.7,201.99 552.34,201.91 552.97,201.82 553.6,201.74 554.24,201.66 554.87,201.58 555.51,201.51 556.14,201.44 556.78,201.38 557.41,201.32 558.05,201.26 558.68,201.2 559.32,201.15 559.95,201.1 560.58,201.05 561.22,201 561.85,200.95 562.49,200.89 563.12,200.84 563.76,200.78 564.39,200.72 565.03,200.66 565.66,200.59 566.3,200.52 566.93,200.45 567.56,200.37 568.2,200.29 568.83,200.2 569.47,200.12 570.1,200.02 570.74,199.93 571.37,199.83 572.01,199.73 572.64,199.63 573.28,199.52 573.91,199.41 574.54,199.3 575.18,199.18 575.81,199.06 576.45,198.94 577.08,198.81 577.72,198.68 578.35,198.54 578.99,198.4 579.62,198.26 580.26,198.12 580.89,197.97 581.52,197.82 582.16,197.67 582.79,197.52 583.43,197.37 584.06,197.21 584.7,197.06 585.33,196.9 585.97,196.74 586.6,196.58 587.23,196.42 587.87,196.26 588.5,196.09 589.14,195.93 589.77,195.76 590.41,195.58 591.04,195.41 591.68,195.23 592.31,195.05 592.95,194.86 593.58,194.67 594.21,194.48 594.85,194.29 595.48,194.09 596.12,193.88 596.75,193.68 597.39,193.47 598.02,193.25 598.66,193.03 599.29,192.81 599.93,192.59 600.56,192.36 601.19,192.12 601.83,191.89 602.46,191.64 603.1,191.4 603.73,191.15 604.37,190.89 605,190.63 605.64,190.37 606.27,190.1 606.91,189.82 607.54,189.54 608.17,189.26 608.81,188.96 609.44,188.67 610.08,188.37 610.71,188.06 611.35,187.75 611.98,187.43 612.62,187.11 613.25,186.78 613.88,186.44 614.52,186.1 615.15,185.75 615.79,185.39 616.42,185.03 617.06,184.66 617.69,184.28 618.33,183.89 618.96,183.5 619.6,183.1 620.23,182.7 620.86,182.28 621.5,181.86 622.13,181.43 622.77,180.99 623.4,180.54 624.04,180.08 624.67,179.61 625.31,179.14 625.94,178.65 626.58,178.16 627.21,177.65 627.84,177.14 628.48,176.61 629.11,176.08 629.75,175.53 630.38,174.97 631.02,174.4 631.65,173.82 632.29,173.23 632.92,172.63 633.56,172.01 634.19,171.38 634.82,170.74 635.46,170.08 636.09,169.41 636.73,168.73 637.36,168.03 638,167.32 638.63,166.59 639.27,165.85 639.9,165.09 640.53,164.31 641.17,163.52 641.8,162.72 642.44,161.89 643.07,161.05 643.71,160.19 644.34,159.31 644.98,158.41 645.61,157.49 646.25,156.56 646.88,155.6 647.51,154.62 648.15,153.62 648.78,152.6 649.42,151.55 650.05,150.49 650.69,149.39 651.32,148.28 651.96,147.14 652.59,145.97 653.23,144.78 653.86,143.56 654.49,142.32 655.13,141.04 655.76,139.74 656.4,138.41 657.03,137.05 657.67,135.65 658.3,134.23 658.94,132.77 659.57,131.28 660.21,129.75 660.84,128.19 661.47,126.6 662.11,124.96 662.74,123.29 663.38,121.58 664.01,119.83 664.65,118.03 665.28,116.2 665.92,114.32 666.55,112.4 667.18,110.43 667.82,108.42 668.45,106.35 669.09,104.24 669.72,102.08 670.36,99.86 670.99,97.6 671.63,95.27 672.26,92.89 672.9,90.46 673.53,87.96 674.16,85.4 674.8,82.78 675.43,80.1 676.07,77.36 676.7,74.55" fill="none" stroke="none" marker-start="url(#mr)" marker-mid="url(#mr)" marker-end="url(#mr)"/>
<polyline clip-path="url(#cB)" points="383.55,208.2 384.19,208.19 384.82,208.18 385.46,208.17 386.09,208.16 386.72,208.15 387.36,208.14 387.99,208.13 388.63,208.12 389.26,208.11 389.9,208.1 390.53,208.09 391.17,208.08 391.8,208.07 392.44,208.07 393.07,208.06 393.7,208.05 394.34,208.04 394.97,208.03 395.61,208.02 396.24,208.01 396.88,208 397.51,208 398.15,207.99 398.78,207.98 399.42,207.97 400.05,207.96 400.68,207.95 401.32,207.94 401.95,207.94 402.59,207.93 403.22,207.92 403.86,207.91 404.49,207.9 405.13,207.89 405.76,207.88 406.4,207.88 407.03,207.87 407.66,207.86 408.3,207.85 408.93,207.84 409.57,207.83 410.2,207.83 410.84,207.82 411.47,207.81 412.11,207.8 412.74,207.79 413.37,207.78 414.01,207.78 414.64,207.77 415.28,207.76 415.91,207.75 416.55,207.74 417.18,207.73 417.82,207.72 418.45,207.72 419.09,207.71 419.72,207.7 420.35,207.69 420.99,207.68 421.62,207.67 422.26,207.66 422.89,207.65 423.53,207.64 424.16,207.64 424.8,207.63 425.43,207.62 426.07,207.61 426.7,207.6 427.33,207.59 427.97,207.58 428.6,207.57 429.24,207.56 429.87,207.55 430.51,207.54 431.14,207.53 431.78,207.52 432.41,207.51 433.05,207.5 433.68,207.49 434.31,207.48 434.95,207.47 435.58,207.46 436.22,207.45 436.85,207.44 437.49,207.43 438.12,207.42 438.76,207.41 439.39,207.4 440.02,207.38 440.66,207.37 441.29,207.36 441.93,207.35 442.56,207.34 443.2,207.33 443.83,207.31 444.47,207.3 445.1,207.29 445.74,207.28 446.37,207.26 447,207.25 447.64,207.24 448.27,207.22 448.91,207.21 449.54,207.2 450.18,207.18 450.81,207.17 451.45,207.15 452.08,207.14 452.72,207.13 453.35,207.11 453.98,207.1 454.62,207.08 455.25,207.07 455.89,207.05 456.52,207.03 457.16,207.02 457.79,207 458.43,206.99 459.06,206.97 459.7,206.95 460.33,206.94 460.96,206.92 461.6,206.9 462.23,206.89 462.87,206.87 463.5,206.85 464.14,206.84 464.77,206.82 465.41,206.8 466.04,206.79 466.68,206.77 467.31,206.75 467.94,206.74 468.58,206.72 469.21,206.7 469.85,206.69 470.48,206.67 471.12,206.65 471.75,206.64 472.39,206.62 473.02,206.61 473.65,206.59 474.29,206.58 474.92,206.56 475.56,206.55 476.19,206.53 476.83,206.52 477.46,206.5 478.1,206.49 478.73,206.47 479.37,206.46 480,206.45 480.63,206.43 481.27,206.42 481.9,206.41 482.54,206.39 483.17,206.38 483.81,206.37 484.44,206.36 485.08,206.35 485.71,206.34 486.35,206.32 486.98,206.31 487.61,206.3 488.25,206.29 488.88,206.28 489.52,206.27 490.15,206.26 490.79,206.25 491.42,206.24 492.06,206.23 492.69,206.23 493.33,206.22 493.96,206.21 494.59,206.2 495.23,206.19 495.86,206.19 496.5,206.18 497.13,206.17 497.77,206.16 498.4,206.16 499.04,206.15 499.67,206.14 500.3,206.13 500.94,206.13 501.57,206.12 502.21,206.11 502.84,206.1 503.48,206.1 504.11,206.09 504.75,206.08 505.38,206.07 506.02,206.07 506.65,206.06 507.28,206.05 507.92,206.04 508.55,206.03 509.19,206.03 509.82,206.02 510.46,206.01 511.09,206 511.73,205.99 512.36,205.98 513,205.97 513.63,205.96 514.26,205.94 514.9,205.93 515.53,205.92 516.17,205.91 516.8,205.9 517.44,205.89 518.07,205.88 518.71,205.86 519.34,205.85 519.98,205.84 520.61,205.83 521.24,205.82 521.88,205.81 522.51,205.8 523.15,205.78 523.78,205.77 524.42,205.76 525.05,205.75 525.69,205.74 526.32,205.72 526.95,205.71 527.59,205.7 528.22,205.74 528.86,205.89 529.49,206.03 530.13,206.16 530.76,206.29 531.4,206.41 532.03,206.52 532.67,206.63 533.3,206.73 533.93,206.82 534.57,206.91 535.2,207 535.84,207.07 536.47,207.15 537.11,207.21 537.74,207.28 538.38,207.34 539.01,207.4 539.65,207.45 540.28,207.5 540.91,207.55 541.55,207.6 542.18,207.64 542.82,207.68 543.45,207.71 544.09,207.74 544.72,207.77 545.36,207.79 545.99,207.82 546.63,207.83 547.26,207.85 547.89,207.86 548.53,207.87 549.16,207.88 549.8,207.89 550.43,207.9 551.07,207.91 551.7,207.91 552.34,207.92 552.97,207.92 553.6,207.92 554.24,207.93 554.87,207.93 555.51,207.93 556.14,207.93 556.78,207.93 557.41,207.93 558.05,207.93 558.68,207.93 559.32,207.93 559.95,207.93 560.58,207.92 561.22,207.92 561.85,207.92 562.49,207.91 563.12,207.91 563.76,207.9 564.39,207.89 565.03,207.88 565.66,207.87 566.3,207.86 566.93,207.84 567.56,207.82 568.2,207.79 568.83,207.77 569.47,207.73 570.1,207.7 570.74,207.66 571.37,207.62 572.01,207.58 572.64,207.54 573.28,207.5 573.91,207.46 574.54,207.41 575.18,207.37 575.81,207.32 576.45,207.28 577.08,207.23 577.72,207.18 578.35,207.13 578.99,207.08 579.62,207.03 580.26,206.98 580.89,206.93 581.52,206.87 582.16,206.82 582.79,206.77 583.43,206.71 584.06,206.66 584.7,206.61 585.33,206.56 585.97,206.51 586.6,206.46 587.23,206.41 587.87,206.36 588.5,206.31 589.14,206.25 589.77,206.2 590.41,206.15 591.04,206.09 591.68,206.04 592.31,205.98 592.95,205.92 593.58,205.86 594.21,205.8 594.85,205.74 595.48,205.67 596.12,205.6 596.75,205.54 597.39,205.46 598.02,205.39 598.66,205.32 599.29,205.24 599.93,205.17 600.56,205.09 601.19,205.01 601.83,204.93 602.46,204.84 603.1,204.76 603.73,204.67 604.37,204.58 605,204.49 605.64,204.4 606.27,204.31 606.91,204.21 607.54,204.12 608.17,204.02 608.81,203.92 609.44,203.81 610.08,203.71 610.71,203.61 611.35,203.5 611.98,203.39 612.62,203.28 613.25,203.17 613.88,203.05 614.52,202.94 615.15,202.82 615.79,202.7 616.42,202.58 617.06,202.45 617.69,202.33 618.33,202.2 618.96,202.07 619.6,201.94 620.23,201.81 620.86,201.67 621.5,201.54 622.13,201.4 622.77,201.26 623.4,201.12 624.04,200.98 624.67,200.84 625.31,200.69 625.94,200.55 626.58,200.4 627.21,200.25 627.84,200.1 628.48,199.94 629.11,199.79 629.75,199.64 630.38,199.48 631.02,199.32 631.65,199.17 632.29,199.01 632.92,198.85 633.56,198.69 634.19,198.52 634.82,198.36 635.46,198.19 636.09,198.03 636.73,197.86 637.36,197.69 638,197.53 638.63,197.36 639.27,197.19 639.9,197.02 640.53,196.84 641.17,196.67 641.8,196.5 642.44,196.33 643.07,196.15 643.71,195.98 644.34,195.8 644.98,195.62 645.61,195.45 646.25,195.27 646.88,195.09 647.51,194.91 648.15,194.74 648.78,194.56 649.42,194.38 650.05,194.2 650.69,194.02 651.32,193.84 651.96,193.66 652.59,193.48 653.23,193.3 653.86,193.12 654.49,192.94 655.13,192.76 655.76,192.58 656.4,192.4 657.03,192.22 657.67,192.04 658.3,191.86 658.94,191.68 659.57,191.51 660.21,191.33 660.84,191.15 661.47,190.97 662.11,190.8 662.74,190.62 663.38,190.45 664.01,190.27 664.65,190.1 665.28,189.93 665.92,189.76 666.55,189.59 667.18,189.42 667.82,189.25 668.45,189.08 669.09,188.92 669.72,188.76 670.36,188.59 670.99,188.43 671.63,188.27 672.26,188.11 672.9,187.96 673.53,187.8 674.16,187.64 674.8,187.49 675.43,187.34 676.07,187.19 676.7,187.03" fill="none" stroke="none" marker-start="url(#mg)" marker-mid="url(#mg)" marker-end="url(#mg)"/>
<rect x="479.2" y="243.0" width="97.6" height="8.6" fill="#fff" stroke="#e0e0e0" stroke-width="0.7"/>
<circle cx="484.5" cy="247.2" r="2.0" fill="#445694"/>
<text class="t" text-anchor="start" transform="translate(490.30 249.70) scale(1.000 1)">Spline</text>
<circle cx="517.2" cy="247.2" r="2.0" fill="#A23A2E"/>
<text class="t" text-anchor="start" transform="translate(523.00 249.70) scale(1.000 1)">Upper</text>
<circle cx="549.9" cy="247.2" r="2.0" fill="#01665E"/>
<text class="t" text-anchor="start" transform="translate(555.70 249.70) scale(1.000 1)">Lower</text>
</g>
<g>
<clipPath id="cC"><rect x="28.9" y="262.5" width="309.1" height="212.1"/></clipPath>
<path d="M29.0 262.0V474.3H335.0" fill="none" stroke="#d4d4d6" stroke-width="1.4"/>
<path d="M32.6 474.1v3.2M51.3 474.1v3.2M69.9 474.1v3.2M88.6 474.1v3.2M107.2 474.1v3.2M125.9 474.1v3.2M144.5 474.1v3.2M163.2 474.1v3.2M181.8 474.1v3.2M200.5 474.1v3.2M219.1 474.1v3.2M237.8 474.1v3.2M256.5 474.1v3.2M275.1 474.1v3.2M293.8 474.1v3.2M312.4 474.1v3.2M331.1 474.1v3.2M28.9 470.6h-3.2M28.9 402.4h-3.2M28.9 334.2h-3.2M28.9 265.9h-3.2" fill="none" stroke="#b0b0b0" stroke-width="0.9"/>
<text class="t" text-anchor="middle" transform="translate(32.60 485.10) scale(1.000 1)">90</text>
<text class="t" text-anchor="middle" transform="translate(51.26 485.10) scale(1.000 1)">95</text>
<text class="t" text-anchor="middle" transform="translate(69.91 485.10) scale(1.000 1)">100</text>
<text class="t" text-anchor="middle" transform="translate(88.56 485.10) scale(1.000 1)">105</text>
<text class="t" text-anchor="middle" transform="translate(107.22 485.10) scale(1.000 1)">110</text>
<text class="t" text-anchor="middle" transform="translate(125.88 485.10) scale(1.000 1)">115</text>
<text class="t" text-anchor="middle" transform="translate(144.53 485.10) scale(1.000 1)">120</text>
<text class="t" text-anchor="middle" transform="translate(163.19 485.10) scale(1.000 1)">125</text>
<text class="t" text-anchor="middle" transform="translate(181.84 485.10) scale(1.000 1)">130</text>
<text class="t" text-anchor="middle" transform="translate(200.49 485.10) scale(1.000 1)">135</text>
<text class="t" text-anchor="middle" transform="translate(219.15 485.10) scale(1.000 1)">140</text>
<text class="t" text-anchor="middle" transform="translate(237.80 485.10) scale(1.000 1)">145</text>
<text class="t" text-anchor="middle" transform="translate(256.46 485.10) scale(1.000 1)">150</text>
<text class="t" text-anchor="middle" transform="translate(275.12 485.10) scale(1.000 1)">155</text>
<text class="t" text-anchor="middle" transform="translate(293.77 485.10) scale(1.000 1)">160</text>
<text class="t" text-anchor="middle" transform="translate(312.43 485.10) scale(1.000 1)">165</text>
<text class="t" text-anchor="middle" transform="translate(331.08 485.10) scale(1.000 1)">170</text>
<text class="t" text-anchor="end" transform="translate(24.00 472.65) scale(1.000 1)">0</text>
<text class="t" text-anchor="end" transform="translate(24.00 404.45) scale(1.000 1)">5</text>
<text class="t" text-anchor="end" transform="translate(24.00 336.25) scale(1.000 1)">10</text>
<text class="t" text-anchor="end" transform="translate(24.00 268.05) scale(1.000 1)">15</text>
<text class="l" text-anchor="middle" transform="translate(185.75 495.90) scale(1.000 1)">SBP(mm Hg)</text>
<text class="l" text-anchor="middle" transform="translate(7.50 369.15) rotate(-90) scale(1.000 1)">Risk of CVE Recurrence at 1 Year(%)</text>
<text class="L" x="3.6" y="276.5" textLength="9.6" lengthAdjust="spacingAndGlyphs">C</text>
<text class="p" x="111.5" y="299.1"><tspan font-style="italic">P</tspan> for nonlinearity=0.0032</text>
<polyline clip-path="url(#cC)" points="37.45,428.2 38.08,428.42 38.72,428.63 39.35,428.85 39.99,429.06 40.62,429.28 41.26,429.49 41.89,429.7 42.52,429.91 43.16,430.12 43.79,430.33 44.43,430.53 45.06,430.74 45.7,430.94 46.33,431.14 46.96,431.34 47.6,431.54 48.23,431.74 48.87,431.94 49.5,432.14 50.14,432.33 50.77,432.53 51.4,432.72 52.04,432.91 52.67,433.1 53.31,433.29 53.94,433.48 54.58,433.67 55.21,433.85 55.84,434.04 56.48,434.22 57.11,434.41 57.75,434.59 58.38,434.77 59.02,434.95 59.65,435.13 60.28,435.31 60.92,435.48 61.55,435.66 62.19,435.83 62.82,436.01 63.46,436.18 64.09,436.35 64.72,436.52 65.36,436.69 65.99,436.86 66.63,437.03 67.26,437.2 67.9,437.36 68.53,437.53 69.16,437.69 69.8,437.85 70.43,438.02 71.07,438.18 71.7,438.34 72.34,438.5 72.97,438.66 73.6,438.81 74.24,438.97 74.87,439.13 75.51,439.28 76.14,439.44 76.78,439.59 77.41,439.74 78.04,439.89 78.68,440.04 79.31,440.19 79.95,440.34 80.58,440.49 81.21,440.64 81.85,440.78 82.48,440.93 83.12,441.08 83.75,441.22 84.39,441.36 85.02,441.51 85.65,441.65 86.29,441.79 86.92,441.93 87.56,442.07 88.19,442.21 88.83,442.35 89.46,442.48 90.09,442.62 90.73,442.75 91.36,442.89 92,443.02 92.63,443.16 93.27,443.29 93.9,443.42 94.53,443.55 95.17,443.68 95.8,443.81 96.44,443.94 97.07,444.07 97.71,444.2 98.34,444.33 98.97,444.45 99.61,444.58 100.24,444.71 100.88,444.83 101.51,444.95 102.15,445.08 102.78,445.2 103.41,445.32 104.05,445.44 104.68,445.56 105.32,445.68 105.95,445.8 106.59,445.92 107.22,446.04 107.85,446.16 108.49,446.27 109.12,446.39 109.76,446.51 110.39,446.62 111.03,446.73 111.66,446.85 112.29,446.96 112.93,447.07 113.56,447.19 114.2,447.3 114.83,447.41 115.47,447.52 116.1,447.63 116.73,447.74 117.37,447.85 118,447.95 118.64,448.06 119.27,448.17 119.91,448.27 120.54,448.38 121.17,448.49 121.81,448.59 122.44,448.69 123.08,448.8 123.71,448.9 124.35,449 124.98,449.11 125.61,449.21 126.25,449.31 126.88,449.41 127.52,449.51 128.15,449.61 128.79,449.71 129.42,449.81 130.05,449.9 130.69,450 131.32,450.1 131.96,450.19 132.59,450.29 133.23,450.39 133.86,450.48 134.49,450.57 135.13,450.67 135.76,450.76 136.4,450.86 137.03,450.95 137.66,451.04 138.3,451.13 138.93,451.22 139.57,451.31 140.2,451.4 140.84,451.49 141.47,451.58 142.1,451.67 142.74,451.76 143.37,451.85 144.01,451.94 144.64,452.02 145.28,452.11 145.91,452.2 146.54,452.28 147.18,452.37 147.81,452.45 148.45,452.54 149.08,452.62 149.72,452.71 150.35,452.79 150.98,452.87 151.62,452.96 152.25,453.04 152.89,453.12 153.52,453.2 154.16,453.28 154.79,453.36 155.42,453.44 156.06,453.52 156.69,453.6 157.33,453.68 157.96,453.76 158.6,453.84 159.23,453.92 159.86,454 160.5,454.07 161.13,454.15 161.77,454.23 162.4,454.3 163.04,454.38 163.67,454.45 164.3,454.53 164.94,454.6 165.57,454.68 166.21,454.75 166.84,454.83 167.48,454.9 168.11,454.97 168.74,455.05 169.38,455.12 170.01,455.19 170.65,455.26 171.28,455.32 171.92,455.39 172.55,455.46 173.18,455.52 173.82,455.59 174.45,455.65 175.09,455.71 175.72,455.77 176.36,455.83 176.99,455.9 177.62,455.96 178.26,456.02 178.89,456.08 179.53,456.15 180.16,456.21 180.8,456.28 181.43,456.35 182.06,456.42 182.7,456.49 183.33,456.57 183.97,456.64 184.6,456.72 185.24,456.8 185.87,456.88 186.5,456.95 187.14,457.03 187.77,457.11 188.41,457.18 189.04,457.25 189.68,457.32 190.31,457.39 190.94,457.46 191.58,457.52 192.21,457.58 192.85,457.64 193.48,457.69 194.11,457.74 194.75,457.79 195.38,457.84 196.02,457.88 196.65,457.92 197.29,457.96 197.92,458 198.55,458.03 199.19,458.05 199.82,458.08 200.46,458.1 201.09,458.12 201.73,458.13 202.36,458.15 202.99,458.16 203.63,458.17 204.26,458.18 204.9,458.18 205.53,458.19 206.17,458.19 206.8,458.2 207.43,458.2 208.07,458.2 208.7,458.2 209.34,458.2 209.97,458.2 210.61,458.2 211.24,458.19 211.87,458.19 212.51,458.18 213.14,458.17 213.78,458.16 214.41,458.15 215.05,458.13 215.68,458.11 216.31,458.1 216.95,458.08 217.58,458.05 218.22,458.03 218.85,458 219.49,457.97 220.12,457.94 220.75,457.9 221.39,457.86 222.02,457.82 222.66,457.77 223.29,457.72 223.93,457.67 224.56,457.61 225.19,457.55 225.83,457.48 226.46,457.41 227.1,457.34 227.73,457.27 228.37,457.19 229,457.11 229.63,457.03 230.27,456.94 230.9,456.84 231.54,456.75 232.17,456.65 232.81,456.55 233.44,456.44 234.07,456.33 234.71,456.22 235.34,456.11 235.98,455.99 236.61,455.88 237.25,455.76 237.88,455.64 238.51,455.52 239.15,455.39 239.78,455.27 240.42,455.14 241.05,455.01 241.69,454.88 242.32,454.75 242.95,454.62 243.59,454.49 244.22,454.35 244.86,454.21 245.49,454.07 246.13,453.93 246.76,453.78 247.39,453.64 248.03,453.49 248.66,453.34 249.3,453.19 249.93,453.03 250.57,452.88 251.2,452.72 251.83,452.56 252.47,452.39 253.1,452.23 253.74,452.06 254.37,451.89 255,451.72 255.64,451.54 256.27,451.37 256.91,451.19 257.54,451.01 258.18,450.82 258.81,450.64 259.44,450.45 260.08,450.26 260.71,450.06 261.35,449.87 261.98,449.67 262.62,449.47 263.25,449.27 263.88,449.06 264.52,448.85 265.15,448.64 265.79,448.43 266.42,448.21 267.06,447.99 267.69,447.77 268.32,447.54 268.96,447.32 269.59,447.09 270.23,446.85 270.86,446.62 271.5,446.38 272.13,446.14 272.76,445.89 273.4,445.65 274.03,445.39 274.67,445.14 275.3,444.89 275.94,444.63 276.57,444.36 277.2,444.1 277.84,443.83 278.47,443.56 279.11,443.29 279.74,443.01 280.38,442.73 281.01,442.44 281.64,442.16 282.28,441.87 282.91,441.57 283.55,441.28 284.18,440.98 284.82,440.68 285.45,440.37 286.08,440.06 286.72,439.75 287.35,439.43 287.99,439.11 288.62,438.79 289.26,438.46 289.89,438.13 290.52,437.8 291.16,437.46 291.79,437.12 292.43,436.78 293.06,436.44 293.7,436.09 294.33,435.73 294.96,435.38 295.6,435.02 296.23,434.65 296.87,434.28 297.5,433.91 298.14,433.54 298.77,433.16 299.4,432.78 300.04,432.4 300.67,432.01 301.31,431.62 301.94,431.22 302.58,430.82 303.21,430.42 303.84,430.01 304.48,429.6 305.11,429.19 305.75,428.78 306.38,428.36 307.02,427.93 307.65,427.51 308.28,427.08 308.92,426.64 309.55,426.21 310.19,425.77 310.82,425.32 311.45,424.88 312.09,424.43 312.72,423.97 313.36,423.51 313.99,423.05 314.63,422.59 315.26,422.12 315.89,421.65 316.53,421.18 317.16,420.7 317.8,420.23 318.43,419.74 319.07,419.26 319.7,418.77 320.33,418.28 320.97,417.78 321.6,417.29 322.24,416.79 322.87,416.28 323.51,415.78 324.14,415.27 324.77,414.76 325.41,414.25 326.04,413.73 326.68,413.21 327.31,412.69 327.95,412.16 328.58,411.63 329.21,411.1 329.85,410.57 330.48,410.03" fill="none" stroke="none" marker-start="url(#mb)" marker-mid="url(#mb)" marker-end="url(#mb)"/>
<polyline clip-path="url(#cC)" points="37.45,298.35 38.08,300.39 38.72,302.4 39.35,304.4 39.99,306.37 40.62,308.31 41.26,310.24 41.89,312.14 42.52,314.02 43.16,315.88 43.79,317.72 44.43,319.54 45.06,321.33 45.7,323.11 46.33,324.86 46.96,326.59 47.6,328.31 48.23,330 48.87,331.67 49.5,333.33 50.14,334.97 50.77,336.58 51.4,338.18 52.04,339.76 52.67,341.32 53.31,342.87 53.94,344.39 54.58,345.9 55.21,347.39 55.84,348.87 56.48,350.32 57.11,351.77 57.75,353.19 58.38,354.6 59.02,355.99 59.65,357.36 60.28,358.72 60.92,360.07 61.55,361.4 62.19,362.71 62.82,364.01 63.46,365.29 64.09,366.56 64.72,367.82 65.36,369.06 65.99,370.28 66.63,371.49 67.26,372.69 67.9,373.87 68.53,375.04 69.16,376.2 69.8,377.34 70.43,378.47 71.07,379.59 71.7,380.69 72.34,381.79 72.97,382.86 73.6,383.93 74.24,384.98 74.87,386.03 75.51,387.05 76.14,388.07 76.78,389.08 77.41,390.07 78.04,391.05 78.68,392.02 79.31,392.97 79.95,393.92 80.58,394.85 81.21,395.78 81.85,396.69 82.48,397.59 83.12,398.48 83.75,399.35 84.39,400.22 85.02,401.08 85.65,401.92 86.29,402.76 86.92,403.59 87.56,404.4 88.19,405.2 88.83,406 89.46,406.78 90.09,407.56 90.73,408.32 91.36,409.07 92,409.82 92.63,410.56 93.27,411.28 93.9,412 94.53,412.71 95.17,413.4 95.8,414.09 96.44,414.77 97.07,415.45 97.71,416.11 98.34,416.76 98.97,417.41 99.61,418.04 100.24,418.67 100.88,419.29 101.51,419.91 102.15,420.51 102.78,421.11 103.41,421.7 104.05,422.28 104.68,422.85 105.32,423.41 105.95,423.97 106.59,424.52 107.22,425.06 107.85,425.6 108.49,426.13 109.12,426.65 109.76,427.16 110.39,427.67 111.03,428.17 111.66,428.66 112.29,429.15 112.93,429.63 113.56,430.1 114.2,430.57 114.83,431.03 115.47,431.49 116.1,431.94 116.73,432.38 117.37,432.81 118,433.24 118.64,433.67 119.27,434.09 119.91,434.5 120.54,434.91 121.17,435.31 121.81,435.7 122.44,436.09 123.08,436.48 123.71,436.86 124.35,437.23 124.98,437.6 125.61,437.96 126.25,438.32 126.88,438.68 127.52,439.02 128.15,439.37 128.79,439.71 129.42,440.04 130.05,440.37 130.69,440.7 131.32,441.02 131.96,441.33 132.59,441.65 133.23,441.95 133.86,442.25 134.49,442.55 135.13,442.85 135.76,443.14 136.4,443.42 137.03,443.7 137.66,443.98 138.3,444.26 138.93,444.53 139.57,444.79 140.2,445.05 140.84,445.31 141.47,445.57 142.1,445.82 142.74,446.07 143.37,446.31 144.01,446.55 144.64,446.79 145.28,447.02 145.91,447.25 146.54,447.48 147.18,447.7 147.81,447.92 148.45,448.14 149.08,448.35 149.72,448.56 150.35,448.77 150.98,448.98 151.62,449.18 152.25,449.38 152.89,449.58 153.52,449.77 154.16,449.97 154.79,450.15 155.42,450.34 156.06,450.53 156.69,450.71 157.33,450.89 157.96,451.06 158.6,451.24 159.23,451.41 159.86,451.58 160.5,451.75 161.13,451.92 161.77,452.08 162.4,452.24 163.04,452.4 163.67,452.56 164.3,452.71 164.94,452.87 165.57,453.02 166.21,453.17 166.84,453.32 167.48,453.46 168.11,453.61 168.74,453.75 169.38,453.89 170.01,454.03 170.65,454.17 171.28,454.31 171.92,454.45 172.55,454.58 173.18,454.72 173.82,454.85 174.45,454.99 175.09,455.12 175.72,455.25 176.36,455.38 176.99,455.51 177.62,455.64 178.26,455.76 178.89,455.89 179.53,456.01 180.16,456.14 180.8,456.26 181.43,456.38 182.06,456.42 182.7,456.31 183.33,456.2 183.97,456.09 184.6,455.97 185.24,455.86 185.87,455.75 186.5,455.63 187.14,455.52 187.77,455.4 188.41,455.29 189.04,455.17 189.68,455.05 190.31,454.94 190.94,454.82 191.58,454.7 192.21,454.58 192.85,454.46 193.48,454.34 194.11,454.22 194.75,454.1 195.38,453.98 196.02,453.85 196.65,453.74 197.29,453.62 197.92,453.5 198.55,453.39 199.19,453.28 199.82,453.17 200.46,453.06 201.09,452.95 201.73,452.85 202.36,452.75 202.99,452.65 203.63,452.55 204.26,452.46 204.9,452.37 205.53,452.28 206.17,452.2 206.8,452.12 207.43,452.05 208.07,451.98 208.7,451.92 209.34,451.87 209.97,451.82 210.61,451.78 211.24,451.74 211.87,451.71 212.51,451.68 213.14,451.66 213.78,451.63 214.41,451.61 215.05,451.59 215.68,451.57 216.31,451.54 216.95,451.52 217.58,451.49 218.22,451.46 218.85,451.43 219.49,451.39 220.12,451.35 220.75,451.3 221.39,451.25 222.02,451.2 222.66,451.14 223.29,451.08 223.93,451.01 224.56,450.94 225.19,450.87 225.83,450.79 226.46,450.7 227.1,450.61 227.73,450.52 228.37,450.42 229,450.31 229.63,450.19 230.27,450.07 230.9,449.94 231.54,449.8 232.17,449.65 232.81,449.49 233.44,449.33 234.07,449.17 234.71,449 235.34,448.83 235.98,448.66 236.61,448.49 237.25,448.32 237.88,448.15 238.51,447.97 239.15,447.8 239.78,447.63 240.42,447.46 241.05,447.29 241.69,447.12 242.32,446.95 242.95,446.77 243.59,446.59 244.22,446.41 244.86,446.23 245.49,446.05 246.13,445.86 246.76,445.67 247.39,445.47 248.03,445.27 248.66,445.07 249.3,444.86 249.93,444.66 250.57,444.44 251.2,444.23 251.83,444.01 252.47,443.78 253.1,443.56 253.74,443.33 254.37,443.09 255,442.86 255.64,442.61 256.27,442.37 256.91,442.12 257.54,441.86 258.18,441.61 258.81,441.34 259.44,441.08 260.08,440.8 260.71,440.53 261.35,440.25 261.98,439.96 262.62,439.67 263.25,439.37 263.88,439.07 264.52,438.77 265.15,438.46 265.79,438.14 266.42,437.82 267.06,437.49 267.69,437.16 268.32,436.82 268.96,436.47 269.59,436.12 270.23,435.76 270.86,435.4 271.5,435.03 272.13,434.65 272.76,434.27 273.4,433.88 274.03,433.48 274.67,433.07 275.3,432.66 275.94,432.24 276.57,431.81 277.2,431.37 277.84,430.93 278.47,430.48 279.11,430.02 279.74,429.55 280.38,429.07 281.01,428.58 281.64,428.08 282.28,427.58 282.91,427.06 283.55,426.53 284.18,426 284.82,425.45 285.45,424.9 286.08,424.33 286.72,423.75 287.35,423.16 287.99,422.56 288.62,421.94 289.26,421.32 289.89,420.68 290.52,420.03 291.16,419.37 291.79,418.69 292.43,418.01 293.06,417.31 293.7,416.59 294.33,415.86 294.96,415.12 295.6,414.36 296.23,413.59 296.87,412.8 297.5,411.99 298.14,411.17 298.77,410.34 299.4,409.49 300.04,408.62 300.67,407.73 301.31,406.83 301.94,405.91 302.58,404.97 303.21,404.01 303.84,403.03 304.48,402.03 305.11,401.02 305.75,399.98 306.38,398.92 307.02,397.84 307.65,396.74 308.28,395.62 308.92,394.47 309.55,393.3 310.19,392.11 310.82,390.89 311.45,389.65 312.09,388.39 312.72,387.1 313.36,385.78 313.99,384.43 314.63,383.06 315.26,381.66 315.89,380.23 316.53,378.78 317.16,377.29 317.8,375.77 318.43,374.22 319.07,372.64 319.7,371.03 320.33,369.38 320.97,367.7 321.6,365.99 322.24,364.24 322.87,362.45 323.51,360.63 324.14,358.77 324.77,356.87 325.41,354.93 326.04,352.95 326.68,350.93 327.31,348.87 327.95,346.76 328.58,344.61 329.21,342.42 329.85,340.18 330.48,337.89" fill="none" stroke="none" marker-start="url(#mr)" marker-mid="url(#mr)" marker-end="url(#mr)"/>
<polyline clip-path="url(#cC)" points="37.45,460.14 38.08,460.11 38.72,460.09 39.35,460.06 39.99,460.03 40.62,460 41.26,459.97 41.89,459.95 42.52,459.92 43.16,459.89 43.79,459.86 44.43,459.83 45.06,459.81 45.7,459.78 46.33,459.75 46.96,459.72 47.6,459.69 48.23,459.66 48.87,459.63 49.5,459.61 50.14,459.58 50.77,459.55 51.4,459.52 52.04,459.49 52.67,459.46 53.31,459.43 53.94,459.41 54.58,459.38 55.21,459.35 55.84,459.32 56.48,459.29 57.11,459.26 57.75,459.23 58.38,459.21 59.02,459.18 59.65,459.15 60.28,459.12 60.92,459.09 61.55,459.06 62.19,459.03 62.82,459 63.46,458.98 64.09,458.95 64.72,458.92 65.36,458.89 65.99,458.86 66.63,458.83 67.26,458.81 67.9,458.78 68.53,458.75 69.16,458.72 69.8,458.69 70.43,458.66 71.07,458.64 71.7,458.61 72.34,458.58 72.97,458.55 73.6,458.52 74.24,458.49 74.87,458.47 75.51,458.44 76.14,458.41 76.78,458.38 77.41,458.36 78.04,458.33 78.68,458.3 79.31,458.27 79.95,458.25 80.58,458.22 81.21,458.19 81.85,458.16 82.48,458.14 83.12,458.11 83.75,458.08 84.39,458.06 85.02,458.03 85.65,458 86.29,457.98 86.92,457.95 87.56,457.92 88.19,457.9 88.83,457.87 89.46,457.84 90.09,457.82 90.73,457.79 91.36,457.77 92,457.74 92.63,457.71 93.27,457.69 93.9,457.66 94.53,457.64 95.17,457.61 95.8,457.59 96.44,457.56 97.07,457.54 97.71,457.51 98.34,457.49 98.97,457.47 99.61,457.44 100.24,457.42 100.88,457.39 101.51,457.37 102.15,457.35 102.78,457.32 103.41,457.3 104.05,457.28 104.68,457.25 105.32,457.23 105.95,457.21 106.59,457.19 107.22,457.17 107.85,457.14 108.49,457.12 109.12,457.1 109.76,457.08 110.39,457.06 111.03,457.04 111.66,457.02 112.29,456.99 112.93,456.97 113.56,456.95 114.2,456.93 114.83,456.91 115.47,456.89 116.1,456.87 116.73,456.86 117.37,456.84 118,456.82 118.64,456.8 119.27,456.78 119.91,456.76 120.54,456.75 121.17,456.73 121.81,456.71 122.44,456.69 123.08,456.68 123.71,456.66 124.35,456.64 124.98,456.63 125.61,456.61 126.25,456.6 126.88,456.58 127.52,456.57 128.15,456.55 128.79,456.54 129.42,456.52 130.05,456.51 130.69,456.49 131.32,456.48 131.96,456.47 132.59,456.45 133.23,456.44 133.86,456.43 134.49,456.42 135.13,456.41 135.76,456.39 136.4,456.38 137.03,456.37 137.66,456.36 138.3,456.35 138.93,456.34 139.57,456.33 140.2,456.32 140.84,456.31 141.47,456.3 142.1,456.3 142.74,456.29 143.37,456.28 144.01,456.27 144.64,456.27 145.28,456.26 145.91,456.25 146.54,456.25 147.18,456.24 147.81,456.24 148.45,456.23 149.08,456.23 149.72,456.22 150.35,456.22 150.98,456.21 151.62,456.21 152.25,456.21 152.89,456.21 153.52,456.2 154.16,456.2 154.79,456.2 155.42,456.2 156.06,456.2 156.69,456.2 157.33,456.2 157.96,456.2 158.6,456.21 159.23,456.21 159.86,456.21 160.5,456.21 161.13,456.21 161.77,456.21 162.4,456.21 163.04,456.22 163.67,456.22 164.3,456.22 164.94,456.23 165.57,456.23 166.21,456.24 166.84,456.24 167.48,456.25 168.11,456.25 168.74,456.26 169.38,456.27 170.01,456.28 170.65,456.29 171.28,456.29 171.92,456.3 172.55,456.31 173.18,456.32 173.82,456.33 174.45,456.34 175.09,456.35 175.72,456.36 176.36,456.37 176.99,456.38 177.62,456.39 178.26,456.4 178.89,456.41 179.53,456.42 180.16,456.43 180.8,456.44 181.43,456.45 182.06,456.53 182.7,456.73 183.33,456.93 183.97,457.13 184.6,457.32 185.24,457.5 185.87,457.68 186.5,457.86 187.14,458.03 187.77,458.2 188.41,458.37 189.04,458.53 189.68,458.69 190.31,458.84 190.94,458.99 191.58,459.14 192.21,459.29 192.85,459.43 193.48,459.57 194.11,459.71 194.75,459.84 195.38,459.97 196.02,460.1 196.65,460.22 197.29,460.34 197.92,460.45 198.55,460.55 199.19,460.66 199.82,460.75 200.46,460.84 201.09,460.93 201.73,461.01 202.36,461.1 202.99,461.17 203.63,461.25 204.26,461.32 204.9,461.38 205.53,461.44 206.17,461.5 206.8,461.55 207.43,461.59 208.07,461.62 208.7,461.65 209.34,461.67 209.97,461.68 210.61,461.69 211.24,461.69 211.87,461.69 212.51,461.69 213.14,461.68 213.78,461.67 214.41,461.66 215.05,461.65 215.68,461.64 216.31,461.63 216.95,461.61 217.58,461.6 218.22,461.59 218.85,461.57 219.49,461.55 220.12,461.54 220.75,461.52 221.39,461.5 222.02,461.48 222.66,461.46 223.29,461.44 223.93,461.42 224.56,461.39 225.19,461.37 225.83,461.34 226.46,461.32 227.1,461.29 227.73,461.26 228.37,461.23 229,461.2 229.63,461.17 230.27,461.13 230.9,461.1 231.54,461.06 232.17,461.02 232.81,460.98 233.44,460.94 234.07,460.9 234.71,460.85 235.34,460.8 235.98,460.75 236.61,460.7 237.25,460.64 237.88,460.58 238.51,460.52 239.15,460.45 239.78,460.38 240.42,460.31 241.05,460.23 241.69,460.15 242.32,460.06 242.95,459.97 243.59,459.88 244.22,459.79 244.86,459.69 245.49,459.6 246.13,459.5 246.76,459.4 247.39,459.3 248.03,459.2 248.66,459.1 249.3,458.99 249.93,458.89 250.57,458.78 251.2,458.67 251.83,458.56 252.47,458.45 253.1,458.33 253.74,458.22 254.37,458.1 255,457.98 255.64,457.86 256.27,457.74 256.91,457.62 257.54,457.5 258.18,457.37 258.81,457.24 259.44,457.11 260.08,456.98 260.71,456.85 261.35,456.71 261.98,456.58 262.62,456.44 263.25,456.3 263.88,456.16 264.52,456.02 265.15,455.88 265.79,455.74 266.42,455.59 267.06,455.45 267.69,455.3 268.32,455.15 268.96,455 269.59,454.85 270.23,454.7 270.86,454.55 271.5,454.4 272.13,454.24 272.76,454.09 273.4,453.93 274.03,453.78 274.67,453.62 275.3,453.47 275.94,453.31 276.57,453.15 277.2,452.99 277.84,452.83 278.47,452.67 279.11,452.51 279.74,452.36 280.38,452.2 281.01,452.04 281.64,451.88 282.28,451.72 282.91,451.56 283.55,451.4 284.18,451.24 284.82,451.09 285.45,450.93 286.08,450.77 286.72,450.62 287.35,450.47 287.99,450.31 288.62,450.16 289.26,450.01 289.89,449.85 290.52,449.7 291.16,449.55 291.79,449.4 292.43,449.25 293.06,449.11 293.7,448.96 294.33,448.81 294.96,448.67 295.6,448.52 296.23,448.38 296.87,448.24 297.5,448.1 298.14,447.96 298.77,447.82 299.4,447.68 300.04,447.54 300.67,447.4 301.31,447.27 301.94,447.13 302.58,447 303.21,446.87 303.84,446.74 304.48,446.61 305.11,446.48 305.75,446.35 306.38,446.22 307.02,446.09 307.65,445.97 308.28,445.84 308.92,445.72 309.55,445.6 310.19,445.48 310.82,445.36 311.45,445.24 312.09,445.12 312.72,445 313.36,444.89 313.99,444.77 314.63,444.66 315.26,444.54 315.89,444.43 316.53,444.32 317.16,444.21 317.8,444.1 318.43,443.99 319.07,443.89 319.7,443.78 320.33,443.67 320.97,443.57 321.6,443.47 322.24,443.36 322.87,443.26 323.51,443.16 324.14,443.06 324.77,442.96 325.41,442.87 326.04,442.77 326.68,442.67 327.31,442.58 327.95,442.48 328.58,442.39 329.21,442.3 329.85,442.2 330.48,442.11" fill="none" stroke="none" marker-start="url(#mg)" marker-mid="url(#mg)" marker-end="url(#mg)"/>
<rect x="133.2" y="502.4" width="97.6" height="8.6" fill="#fff" stroke="#e0e0e0" stroke-width="0.7"/>
<circle cx="138.5" cy="506.6" r="2.0" fill="#445694"/>
<text class="t" text-anchor="start" transform="translate(144.30 509.10) scale(1.000 1)">Spline</text>
<circle cx="171.2" cy="506.6" r="2.0" fill="#A23A2E"/>
<text class="t" text-anchor="start" transform="translate(177.00 509.10) scale(1.000 1)">Upper</text>
<circle cx="203.9" cy="506.6" r="2.0" fill="#01665E"/>
<text class="t" text-anchor="start" transform="translate(209.70 509.10) scale(1.000 1)">Lower</text>
</g>
<g>
<clipPath id="cD"><rect x="374.9" y="262.5" width="309.1" height="212.1"/></clipPath>
<path d="M375.0 262.0V474.3H681.0" fill="none" stroke="#d4d4d6" stroke-width="1.4"/>
<path d="M378.7 474.1v3.2M397.4 474.1v3.2M416.0 474.1v3.2M434.7 474.1v3.2M453.4 474.1v3.2M472.0 474.1v3.2M490.7 474.1v3.2M509.3 474.1v3.2M528.0 474.1v3.2M546.7 474.1v3.2M565.3 474.1v3.2M584.0 474.1v3.2M602.6 474.1v3.2M621.3 474.1v3.2M640.0 474.1v3.2M658.6 474.1v3.2M677.3 474.1v3.2M374.9 470.6h-3.2M374.9 429.6h-3.2M374.9 388.7h-3.2M374.9 347.8h-3.2M374.9 306.9h-3.2M374.9 265.9h-3.2" fill="none" stroke="#b0b0b0" stroke-width="0.9"/>
<text class="t" text-anchor="middle" transform="translate(378.70 485.10) scale(1.000 1)">90</text>
<text class="t" text-anchor="middle" transform="translate(397.36 485.10) scale(1.000 1)">95</text>
<text class="t" text-anchor="middle" transform="translate(416.02 485.10) scale(1.000 1)">100</text>
<text class="t" text-anchor="middle" transform="translate(434.69 485.10) scale(1.000 1)">105</text>
<text class="t" text-anchor="middle" transform="translate(453.35 485.10) scale(1.000 1)">110</text>
<text class="t" text-anchor="middle" transform="translate(472.01 485.10) scale(1.000 1)">115</text>
<text class="t" text-anchor="middle" transform="translate(490.67 485.10) scale(1.000 1)">120</text>
<text class="t" text-anchor="middle" transform="translate(509.34 485.10) scale(1.000 1)">125</text>
<text class="t" text-anchor="middle" transform="translate(528.00 485.10) scale(1.000 1)">130</text>
<text class="t" text-anchor="middle" transform="translate(546.66 485.10) scale(1.000 1)">135</text>
<text class="t" text-anchor="middle" transform="translate(565.33 485.10) scale(1.000 1)">140</text>
<text class="t" text-anchor="middle" transform="translate(583.99 485.10) scale(1.000 1)">145</text>
<text class="t" text-anchor="middle" transform="translate(602.65 485.10) scale(1.000 1)">150</text>
<text class="t" text-anchor="middle" transform="translate(621.31 485.10) scale(1.000 1)">155</text>
<text class="t" text-anchor="middle" transform="translate(639.97 485.10) scale(1.000 1)">160</text>
<text class="t" text-anchor="middle" transform="translate(658.64 485.10) scale(1.000 1)">165</text>
<text class="t" text-anchor="middle" transform="translate(677.30 485.10) scale(1.000 1)">170</text>
<text class="t" text-anchor="end" transform="translate(370.00 472.65) scale(1.000 1)">0</text>
<text class="t" text-anchor="end" transform="translate(370.00 431.73) scale(1.000 1)">5</text>
<text class="t" text-anchor="end" transform="translate(370.00 390.81) scale(1.000 1)">10</text>
<text class="t" text-anchor="end" transform="translate(370.00 349.89) scale(1.000 1)">15</text>
<text class="t" text-anchor="end" transform="translate(370.00 308.97) scale(1.000 1)">20</text>
<text class="t" text-anchor="end" transform="translate(370.00 268.05) scale(1.000 1)">25</text>
<text class="l" text-anchor="middle" transform="translate(531.75 495.90) scale(1.000 1)">SBP(mm Hg)</text>
<text class="l" text-anchor="middle" transform="translate(353.50 369.15) rotate(-90) scale(1.000 1)">Risk of  Strok Recurrence at 1 Year(%)</text>
<text class="L" x="350.3" y="276.0" textLength="10.1" lengthAdjust="spacingAndGlyphs">D</text>
<text class="p" x="453.0" y="297.7"><tspan font-style="italic">P</tspan> for nonlinearity=0.0007</text>
<polyline clip-path="url(#cD)" points="383.55,435.32 384.19,435.58 384.82,435.85 385.46,436.11 386.09,436.37 386.72,436.62 387.36,436.88 387.99,437.13 388.63,437.37 389.26,437.62 389.9,437.86 390.53,438.1 391.17,438.34 391.8,438.57 392.44,438.8 393.07,439.03 393.7,439.26 394.34,439.49 394.97,439.71 395.61,439.93 396.24,440.15 396.88,440.37 397.51,440.58 398.15,440.79 398.78,441 399.42,441.21 400.05,441.42 400.68,441.62 401.32,441.82 401.95,442.02 402.59,442.22 403.22,442.42 403.86,442.61 404.49,442.8 405.13,442.99 405.76,443.18 406.4,443.37 407.03,443.56 407.66,443.74 408.3,443.92 408.93,444.1 409.57,444.28 410.2,444.46 410.84,444.64 411.47,444.81 412.11,444.99 412.74,445.16 413.37,445.33 414.01,445.5 414.64,445.67 415.28,445.83 415.91,446 416.55,446.16 417.18,446.32 417.82,446.49 418.45,446.65 419.09,446.81 419.72,446.96 420.35,447.12 420.99,447.28 421.62,447.43 422.26,447.58 422.89,447.74 423.53,447.89 424.16,448.04 424.8,448.19 425.43,448.34 426.07,448.48 426.7,448.63 427.33,448.77 427.97,448.92 428.6,449.06 429.24,449.2 429.87,449.35 430.51,449.49 431.14,449.63 431.78,449.77 432.41,449.9 433.05,450.04 433.68,450.18 434.31,450.31 434.95,450.45 435.58,450.58 436.22,450.72 436.85,450.85 437.49,450.98 438.12,451.11 438.76,451.24 439.39,451.37 440.02,451.5 440.66,451.63 441.29,451.76 441.93,451.88 442.56,452.01 443.2,452.14 443.83,452.26 444.47,452.39 445.1,452.51 445.74,452.63 446.37,452.76 447,452.88 447.64,453 448.27,453.12 448.91,453.24 449.54,453.36 450.18,453.48 450.81,453.6 451.45,453.72 452.08,453.83 452.72,453.95 453.35,454.07 453.98,454.18 454.62,454.3 455.25,454.41 455.89,454.53 456.52,454.64 457.16,454.75 457.79,454.86 458.43,454.97 459.06,455.08 459.7,455.19 460.33,455.3 460.96,455.41 461.6,455.51 462.23,455.62 462.87,455.72 463.5,455.83 464.14,455.93 464.77,456.03 465.41,456.13 466.04,456.23 466.68,456.33 467.31,456.43 467.94,456.52 468.58,456.62 469.21,456.71 469.85,456.8 470.48,456.9 471.12,456.99 471.75,457.07 472.39,457.16 473.02,457.25 473.65,457.33 474.29,457.42 474.92,457.5 475.56,457.58 476.19,457.66 476.83,457.74 477.46,457.82 478.1,457.89 478.73,457.97 479.37,458.04 480,458.12 480.63,458.19 481.27,458.26 481.9,458.33 482.54,458.4 483.17,458.47 483.81,458.53 484.44,458.6 485.08,458.66 485.71,458.73 486.35,458.79 486.98,458.85 487.61,458.91 488.25,458.97 488.88,459.03 489.52,459.09 490.15,459.14 490.79,459.2 491.42,459.25 492.06,459.31 492.69,459.36 493.33,459.41 493.96,459.46 494.59,459.51 495.23,459.56 495.86,459.61 496.5,459.66 497.13,459.71 497.77,459.76 498.4,459.81 499.04,459.85 499.67,459.9 500.3,459.95 500.94,459.99 501.57,460.04 502.21,460.08 502.84,460.13 503.48,460.17 504.11,460.22 504.75,460.26 505.38,460.3 506.02,460.35 506.65,460.39 507.28,460.43 507.92,460.48 508.55,460.52 509.19,460.57 509.82,460.61 510.46,460.65 511.09,460.7 511.73,460.74 512.36,460.79 513,460.83 513.63,460.88 514.26,460.92 514.9,460.97 515.53,461.01 516.17,461.05 516.8,461.09 517.44,461.13 518.07,461.17 518.71,461.21 519.34,461.25 519.98,461.28 520.61,461.32 521.24,461.36 521.88,461.39 522.51,461.42 523.15,461.46 523.78,461.49 524.42,461.52 525.05,461.56 525.69,461.59 526.32,461.62 526.95,461.66 527.59,461.69 528.22,461.72 528.86,461.76 529.49,461.79 530.13,461.83 530.76,461.86 531.4,461.9 532.03,461.93 532.67,461.97 533.3,462 533.93,462.03 534.57,462.06 535.2,462.09 535.84,462.11 536.47,462.14 537.11,462.16 537.74,462.18 538.38,462.2 539.01,462.22 539.65,462.23 540.28,462.25 540.91,462.26 541.55,462.27 542.18,462.28 542.82,462.29 543.45,462.3 544.09,462.31 544.72,462.32 545.36,462.32 545.99,462.33 546.63,462.33 547.26,462.33 547.89,462.33 548.53,462.33 549.16,462.33 549.8,462.33 550.43,462.33 551.07,462.32 551.7,462.32 552.34,462.32 552.97,462.31 553.6,462.31 554.24,462.3 554.87,462.29 555.51,462.29 556.14,462.28 556.78,462.27 557.41,462.26 558.05,462.25 558.68,462.24 559.32,462.22 559.95,462.21 560.58,462.19 561.22,462.17 561.85,462.15 562.49,462.13 563.12,462.1 563.76,462.07 564.39,462.04 565.03,462.01 565.66,461.97 566.3,461.94 566.93,461.89 567.56,461.85 568.2,461.8 568.83,461.74 569.47,461.69 570.1,461.63 570.74,461.57 571.37,461.5 572.01,461.44 572.64,461.37 573.28,461.3 573.91,461.23 574.54,461.16 575.18,461.09 575.81,461.01 576.45,460.94 577.08,460.86 577.72,460.79 578.35,460.71 578.99,460.63 579.62,460.56 580.26,460.47 580.89,460.39 581.52,460.31 582.16,460.22 582.79,460.13 583.43,460.05 584.06,459.95 584.7,459.86 585.33,459.77 585.97,459.67 586.6,459.57 587.23,459.47 587.87,459.37 588.5,459.26 589.14,459.15 589.77,459.04 590.41,458.93 591.04,458.82 591.68,458.7 592.31,458.58 592.95,458.46 593.58,458.34 594.21,458.22 594.85,458.09 595.48,457.96 596.12,457.83 596.75,457.69 597.39,457.56 598.02,457.42 598.66,457.28 599.29,457.13 599.93,456.99 600.56,456.84 601.19,456.69 601.83,456.53 602.46,456.37 603.1,456.22 603.73,456.05 604.37,455.89 605,455.72 605.64,455.55 606.27,455.38 606.91,455.2 607.54,455.02 608.17,454.84 608.81,454.66 609.44,454.47 610.08,454.28 610.71,454.08 611.35,453.89 611.98,453.69 612.62,453.48 613.25,453.28 613.88,453.07 614.52,452.86 615.15,452.64 615.79,452.42 616.42,452.2 617.06,451.97 617.69,451.74 618.33,451.51 618.96,451.28 619.6,451.04 620.23,450.79 620.86,450.55 621.5,450.3 622.13,450.05 622.77,449.79 623.4,449.53 624.04,449.26 624.67,449 625.31,448.73 625.94,448.45 626.58,448.17 627.21,447.89 627.84,447.6 628.48,447.32 629.11,447.02 629.75,446.72 630.38,446.42 631.02,446.12 631.65,445.81 632.29,445.5 632.92,445.18 633.56,444.86 634.19,444.54 634.82,444.21 635.46,443.88 636.09,443.54 636.73,443.2 637.36,442.86 638,442.51 638.63,442.16 639.27,441.81 639.9,441.45 640.53,441.09 641.17,440.72 641.8,440.35 642.44,439.98 643.07,439.6 643.71,439.22 644.34,438.84 644.98,438.45 645.61,438.06 646.25,437.66 646.88,437.26 647.51,436.86 648.15,436.45 648.78,436.05 649.42,435.63 650.05,435.22 650.69,434.8 651.32,434.37 651.96,433.95 652.59,433.52 653.23,433.09 653.86,432.65 654.49,432.21 655.13,431.77 655.76,431.33 656.4,430.88 657.03,430.43 657.67,429.98 658.3,429.53 658.94,429.07 659.57,428.61 660.21,428.15 660.84,427.69 661.47,427.23 662.11,426.76 662.74,426.29 663.38,425.82 664.01,425.35 664.65,424.88 665.28,424.4 665.92,423.93 666.55,423.46 667.18,422.98 667.82,422.5 668.45,422.03 669.09,421.55 669.72,421.08 670.36,420.6 670.99,420.12 671.63,419.64 672.26,419.17 672.9,418.69 673.53,418.21 674.16,417.73 674.8,417.25 675.43,416.77 676.07,416.29 676.7,415.81" fill="none" stroke="none" marker-start="url(#mb)" marker-mid="url(#mb)" marker-end="url(#mb)"/>
<polyline clip-path="url(#cD)" points="383.55,292.51 384.19,295.23 384.82,297.91 385.46,300.55 386.09,303.15 386.72,305.71 387.36,308.23 387.99,310.71 388.63,313.16 389.26,315.56 389.9,317.93 390.53,320.26 391.17,322.56 391.8,324.82 392.44,327.04 393.07,329.24 393.7,331.39 394.34,333.52 394.97,335.61 395.61,337.67 396.24,339.69 396.88,341.69 397.51,343.65 398.15,345.59 398.78,347.49 399.42,349.36 400.05,351.21 400.68,353.03 401.32,354.82 401.95,356.58 402.59,358.31 403.22,360.02 403.86,361.7 404.49,363.35 405.13,364.98 405.76,366.58 406.4,368.16 407.03,369.72 407.66,371.25 408.3,372.75 408.93,374.24 409.57,375.7 410.2,377.13 410.84,378.55 411.47,379.94 412.11,381.31 412.74,382.66 413.37,383.99 414.01,385.3 414.64,386.58 415.28,387.85 415.91,389.1 416.55,390.33 417.18,391.54 417.82,392.73 418.45,393.9 419.09,395.05 419.72,396.19 420.35,397.31 420.99,398.41 421.62,399.49 422.26,400.56 422.89,401.61 423.53,402.64 424.16,403.66 424.8,404.66 425.43,405.65 426.07,406.62 426.7,407.58 427.33,408.52 427.97,409.44 428.6,410.36 429.24,411.25 429.87,412.14 430.51,413.01 431.14,413.86 431.78,414.71 432.41,415.54 433.05,416.35 433.68,417.16 434.31,417.95 434.95,418.73 435.58,419.49 436.22,420.25 436.85,420.99 437.49,421.72 438.12,422.44 438.76,423.15 439.39,423.85 440.02,424.54 440.66,425.22 441.29,425.88 441.93,426.54 442.56,427.19 443.2,427.83 443.83,428.46 444.47,429.08 445.1,429.69 445.74,430.29 446.37,430.89 447,431.47 447.64,432.05 448.27,432.62 448.91,433.18 449.54,433.73 450.18,434.27 450.81,434.81 451.45,435.34 452.08,435.87 452.72,436.39 453.35,436.9 453.98,437.4 454.62,437.9 455.25,438.39 455.89,438.88 456.52,439.35 457.16,439.83 457.79,440.29 458.43,440.75 459.06,441.2 459.7,441.64 460.33,442.08 460.96,442.51 461.6,442.93 462.23,443.35 462.87,443.76 463.5,444.16 464.14,444.56 464.77,444.95 465.41,445.33 466.04,445.7 466.68,446.07 467.31,446.44 467.94,446.79 468.58,447.15 469.21,447.49 469.85,447.83 470.48,448.16 471.12,448.49 471.75,448.81 472.39,449.12 473.02,449.43 473.65,449.73 474.29,450.03 474.92,450.32 475.56,450.61 476.19,450.89 476.83,451.17 477.46,451.44 478.1,451.71 478.73,451.97 479.37,452.23 480,452.48 480.63,452.74 481.27,452.98 481.9,453.23 482.54,453.47 483.17,453.71 483.81,453.94 484.44,454.17 485.08,454.4 485.71,454.62 486.35,454.84 486.98,455.06 487.61,455.26 488.25,455.47 488.88,455.66 489.52,455.85 490.15,456.04 490.79,456.22 491.42,456.39 492.06,456.57 492.69,456.73 493.33,456.89 493.96,457.05 494.59,457.2 495.23,457.35 495.86,457.49 496.5,457.64 497.13,457.77 497.77,457.91 498.4,458.04 499.04,458.17 499.67,458.29 500.3,458.41 500.94,458.53 501.57,458.65 502.21,458.76 502.84,458.87 503.48,458.98 504.11,459.09 504.75,459.19 505.38,459.29 506.02,459.39 506.65,459.49 507.28,459.58 507.92,459.68 508.55,459.77 509.19,459.86 509.82,459.94 510.46,460.03 511.09,460.11 511.73,460.19 512.36,460.27 513,460.35 513.63,460.42 514.26,460.5 514.9,460.57 515.53,460.65 516.17,460.72 516.8,460.79 517.44,460.86 518.07,460.93 518.71,461 519.34,461.06 519.98,461.13 520.61,461.2 521.24,461.26 521.88,461.33 522.51,461.39 523.15,461.46 523.78,461.52 524.42,461.58 525.05,461.64 525.69,461.7 526.32,461.76 526.95,461.82 527.59,461.88 528.22,461.87 528.86,461.75 529.49,461.63 530.13,461.5 530.76,461.37 531.4,461.25 532.03,461.12 532.67,460.99 533.3,460.86 533.93,460.73 534.57,460.59 535.2,460.46 535.84,460.32 536.47,460.19 537.11,460.05 537.74,459.91 538.38,459.77 539.01,459.63 539.65,459.49 540.28,459.35 540.91,459.21 541.55,459.06 542.18,458.92 542.82,458.78 543.45,458.64 544.09,458.49 544.72,458.36 545.36,458.22 545.99,458.08 546.63,457.95 547.26,457.82 547.89,457.69 548.53,457.56 549.16,457.43 549.8,457.31 550.43,457.18 551.07,457.06 551.7,456.95 552.34,456.84 552.97,456.73 553.6,456.63 554.24,456.54 554.87,456.46 555.51,456.38 556.14,456.31 556.78,456.25 557.41,456.2 558.05,456.15 558.68,456.1 559.32,456.06 559.95,456.02 560.58,455.98 561.22,455.94 561.85,455.91 562.49,455.87 563.12,455.83 563.76,455.79 564.39,455.74 565.03,455.69 565.66,455.63 566.3,455.57 566.93,455.51 567.56,455.44 568.2,455.37 568.83,455.29 569.47,455.21 570.1,455.13 570.74,455.05 571.37,454.96 572.01,454.87 572.64,454.77 573.28,454.68 573.91,454.59 574.54,454.49 575.18,454.39 575.81,454.29 576.45,454.19 577.08,454.09 577.72,453.98 578.35,453.88 578.99,453.77 579.62,453.66 580.26,453.55 580.89,453.43 581.52,453.31 582.16,453.19 582.79,453.07 583.43,452.94 584.06,452.82 584.7,452.69 585.33,452.55 585.97,452.42 586.6,452.28 587.23,452.13 587.87,451.99 588.5,451.84 589.14,451.69 589.77,451.53 590.41,451.38 591.04,451.21 591.68,451.05 592.31,450.88 592.95,450.71 593.58,450.54 594.21,450.36 594.85,450.18 595.48,450 596.12,449.81 596.75,449.62 597.39,449.42 598.02,449.22 598.66,449.02 599.29,448.81 599.93,448.6 600.56,448.39 601.19,448.17 601.83,447.94 602.46,447.72 603.1,447.48 603.73,447.25 604.37,447.01 605,446.76 605.64,446.51 606.27,446.26 606.91,446 607.54,445.73 608.17,445.46 608.81,445.18 609.44,444.9 610.08,444.62 610.71,444.33 611.35,444.03 611.98,443.73 612.62,443.42 613.25,443.11 613.88,442.79 614.52,442.46 615.15,442.13 615.79,441.79 616.42,441.44 617.06,441.09 617.69,440.73 618.33,440.37 618.96,440 619.6,439.62 620.23,439.23 620.86,438.84 621.5,438.44 622.13,438.03 622.77,437.61 623.4,437.19 624.04,436.75 624.67,436.31 625.31,435.86 625.94,435.4 626.58,434.93 627.21,434.46 627.84,433.97 628.48,433.48 629.11,432.97 629.75,432.46 630.38,431.94 631.02,431.4 631.65,430.86 632.29,430.3 632.92,429.74 633.56,429.16 634.19,428.57 634.82,427.97 635.46,427.36 636.09,426.74 636.73,426.1 637.36,425.45 638,424.79 638.63,424.12 639.27,423.43 639.9,422.73 640.53,422.02 641.17,421.29 641.8,420.55 642.44,419.79 643.07,419.02 643.71,418.23 644.34,417.42 644.98,416.6 645.61,415.77 646.25,414.92 646.88,414.05 647.51,413.16 648.15,412.26 648.78,411.33 649.42,410.39 650.05,409.43 650.69,408.46 651.32,407.46 651.96,406.44 652.59,405.4 653.23,404.34 653.86,403.26 654.49,402.15 655.13,401.03 655.76,399.88 656.4,398.7 657.03,397.51 657.67,396.29 658.3,395.04 658.94,393.77 659.57,392.48 660.21,391.15 660.84,389.8 661.47,388.42 662.11,387.02 662.74,385.58 663.38,384.12 664.01,382.62 664.65,381.1 665.28,379.54 665.92,377.95 666.55,376.33 667.18,374.67 667.82,372.98 668.45,371.26 669.09,369.5 669.72,367.7 670.36,365.86 670.99,363.99 671.63,362.08 672.26,360.13 672.9,358.13 673.53,356.1 674.16,354.02 674.8,351.9 675.43,349.73 676.07,347.52 676.7,345.27" fill="none" stroke="none" marker-start="url(#mr)" marker-mid="url(#mr)" marker-end="url(#mr)"/>
<polyline clip-path="url(#cD)" points="383.55,463.14 384.19,463.14 384.82,463.13 385.46,463.13 386.09,463.12 386.72,463.11 387.36,463.11 387.99,463.1 388.63,463.1 389.26,463.09 389.9,463.09 390.53,463.08 391.17,463.07 391.8,463.07 392.44,463.06 393.07,463.05 393.7,463.05 394.34,463.04 394.97,463.03 395.61,463.03 396.24,463.02 396.88,463.01 397.51,463.01 398.15,463 398.78,462.99 399.42,462.99 400.05,462.98 400.68,462.97 401.32,462.96 401.95,462.96 402.59,462.95 403.22,462.94 403.86,462.93 404.49,462.92 405.13,462.92 405.76,462.91 406.4,462.9 407.03,462.89 407.66,462.89 408.3,462.88 408.93,462.87 409.57,462.86 410.2,462.85 410.84,462.84 411.47,462.84 412.11,462.83 412.74,462.82 413.37,462.81 414.01,462.8 414.64,462.79 415.28,462.79 415.91,462.78 416.55,462.77 417.18,462.76 417.82,462.75 418.45,462.74 419.09,462.73 419.72,462.73 420.35,462.72 420.99,462.71 421.62,462.7 422.26,462.69 422.89,462.68 423.53,462.67 424.16,462.67 424.8,462.66 425.43,462.65 426.07,462.64 426.7,462.63 427.33,462.62 427.97,462.61 428.6,462.61 429.24,462.6 429.87,462.59 430.51,462.58 431.14,462.57 431.78,462.56 432.41,462.56 433.05,462.55 433.68,462.54 434.31,462.53 434.95,462.52 435.58,462.52 436.22,462.51 436.85,462.5 437.49,462.49 438.12,462.48 438.76,462.48 439.39,462.47 440.02,462.46 440.66,462.45 441.29,462.45 441.93,462.44 442.56,462.43 443.2,462.42 443.83,462.42 444.47,462.41 445.1,462.4 445.74,462.4 446.37,462.39 447,462.38 447.64,462.38 448.27,462.37 448.91,462.36 449.54,462.36 450.18,462.35 450.81,462.34 451.45,462.34 452.08,462.33 452.72,462.33 453.35,462.32 453.98,462.31 454.62,462.31 455.25,462.3 455.89,462.3 456.52,462.29 457.16,462.29 457.79,462.28 458.43,462.28 459.06,462.27 459.7,462.27 460.33,462.27 460.96,462.26 461.6,462.26 462.23,462.25 462.87,462.25 463.5,462.24 464.14,462.24 464.77,462.24 465.41,462.23 466.04,462.23 466.68,462.23 467.31,462.22 467.94,462.22 468.58,462.22 469.21,462.21 469.85,462.21 470.48,462.21 471.12,462.2 471.75,462.2 472.39,462.2 473.02,462.19 473.65,462.19 474.29,462.19 474.92,462.19 475.56,462.18 476.19,462.18 476.83,462.18 477.46,462.17 478.1,462.17 478.73,462.17 479.37,462.17 480,462.16 480.63,462.16 481.27,462.16 481.9,462.16 482.54,462.15 483.17,462.15 483.81,462.15 484.44,462.15 485.08,462.15 485.71,462.14 486.35,462.14 486.98,462.14 487.61,462.14 488.25,462.13 488.88,462.13 489.52,462.13 490.15,462.13 490.79,462.12 491.42,462.12 492.06,462.12 492.69,462.12 493.33,462.12 493.96,462.11 494.59,462.11 495.23,462.11 495.86,462.11 496.5,462.1 497.13,462.1 497.77,462.1 498.4,462.1 499.04,462.09 499.67,462.09 500.3,462.09 500.94,462.08 501.57,462.08 502.21,462.08 502.84,462.08 503.48,462.07 504.11,462.07 504.75,462.07 505.38,462.06 506.02,462.06 506.65,462.06 507.28,462.05 507.92,462.05 508.55,462.05 509.19,462.04 509.82,462.04 510.46,462.03 511.09,462.03 511.73,462.03 512.36,462.02 513,462.02 513.63,462.01 514.26,462.01 514.9,462 515.53,462 516.17,462 516.8,461.99 517.44,461.99 518.07,461.98 518.71,461.98 519.34,461.97 519.98,461.97 520.61,461.96 521.24,461.96 521.88,461.96 522.51,461.95 523.15,461.95 523.78,461.94 524.42,461.94 525.05,461.94 525.69,461.93 526.32,461.93 526.95,461.92 527.59,461.92 528.22,461.94 528.86,462 529.49,462.06 530.13,462.12 530.76,462.17 531.4,462.23 532.03,462.29 532.67,462.36 533.3,462.42 533.93,462.48 534.57,462.54 535.2,462.6 535.84,462.67 536.47,462.73 537.11,462.79 537.74,462.86 538.38,462.92 539.01,462.99 539.65,463.06 540.28,463.12 540.91,463.19 541.55,463.26 542.18,463.32 542.82,463.39 543.45,463.45 544.09,463.52 544.72,463.58 545.36,463.65 545.99,463.71 546.63,463.77 547.26,463.83 547.89,463.89 548.53,463.95 549.16,464.01 549.8,464.07 550.43,464.13 551.07,464.19 551.7,464.24 552.34,464.29 552.97,464.33 553.6,464.37 554.24,464.41 554.87,464.44 555.51,464.47 556.14,464.5 556.78,464.52 557.41,464.54 558.05,464.55 558.68,464.57 559.32,464.58 559.95,464.59 560.58,464.6 561.22,464.61 561.85,464.62 562.49,464.62 563.12,464.63 563.76,464.63 564.39,464.63 565.03,464.63 565.66,464.63 566.3,464.63 566.93,464.63 567.56,464.62 568.2,464.62 568.83,464.61 569.47,464.6 570.1,464.59 570.74,464.58 571.37,464.56 572.01,464.55 572.64,464.54 573.28,464.52 573.91,464.51 574.54,464.49 575.18,464.47 575.81,464.45 576.45,464.43 577.08,464.41 577.72,464.38 578.35,464.36 578.99,464.33 579.62,464.3 580.26,464.27 580.89,464.24 581.52,464.21 582.16,464.18 582.79,464.14 583.43,464.11 584.06,464.07 584.7,464.03 585.33,463.99 585.97,463.95 586.6,463.91 587.23,463.87 587.87,463.82 588.5,463.78 589.14,463.73 589.77,463.68 590.41,463.63 591.04,463.58 591.68,463.52 592.31,463.47 592.95,463.41 593.58,463.35 594.21,463.29 594.85,463.22 595.48,463.15 596.12,463.09 596.75,463.02 597.39,462.94 598.02,462.87 598.66,462.79 599.29,462.71 599.93,462.63 600.56,462.55 601.19,462.46 601.83,462.37 602.46,462.29 603.1,462.19 603.73,462.1 604.37,462.01 605,461.91 605.64,461.81 606.27,461.71 606.91,461.61 607.54,461.5 608.17,461.39 608.81,461.29 609.44,461.17 610.08,461.06 610.71,460.95 611.35,460.83 611.98,460.71 612.62,460.59 613.25,460.47 613.88,460.34 614.52,460.22 615.15,460.09 615.79,459.96 616.42,459.83 617.06,459.69 617.69,459.56 618.33,459.42 618.96,459.28 619.6,459.14 620.23,459 620.86,458.86 621.5,458.71 622.13,458.57 622.77,458.42 623.4,458.27 624.04,458.12 624.67,457.97 625.31,457.82 625.94,457.67 626.58,457.51 627.21,457.36 627.84,457.2 628.48,457.04 629.11,456.89 629.75,456.73 630.38,456.57 631.02,456.41 631.65,456.26 632.29,456.1 632.92,455.94 633.56,455.78 634.19,455.62 634.82,455.46 635.46,455.31 636.09,455.15 636.73,454.99 637.36,454.83 638,454.67 638.63,454.51 639.27,454.35 639.9,454.19 640.53,454.04 641.17,453.88 641.8,453.72 642.44,453.57 643.07,453.41 643.71,453.25 644.34,453.1 644.98,452.94 645.61,452.79 646.25,452.63 646.88,452.48 647.51,452.33 648.15,452.18 648.78,452.03 649.42,451.87 650.05,451.73 650.69,451.58 651.32,451.43 651.96,451.28 652.59,451.13 653.23,450.99 653.86,450.84 654.49,450.7 655.13,450.56 655.76,450.42 656.4,450.27 657.03,450.14 657.67,450 658.3,449.86 658.94,449.72 659.57,449.59 660.21,449.46 660.84,449.32 661.47,449.19 662.11,449.06 662.74,448.93 663.38,448.81 664.01,448.68 664.65,448.56 665.28,448.43 665.92,448.31 666.55,448.19 667.18,448.08 667.82,447.96 668.45,447.85 669.09,447.73 669.72,447.62 670.36,447.51 670.99,447.4 671.63,447.3 672.26,447.19 672.9,447.09 673.53,446.98 674.16,446.88 674.8,446.79 675.43,446.69 676.07,446.59 676.7,446.5" fill="none" stroke="none" marker-start="url(#mg)" marker-mid="url(#mg)" marker-end="url(#mg)"/>
<rect x="479.2" y="502.4" width="97.6" height="8.6" fill="#fff" stroke="#e0e0e0" stroke-width="0.7"/>
<circle cx="484.5" cy="506.6" r="2.0" fill="#445694"/>
<text class="t" text-anchor="start" transform="translate(490.30 509.10) scale(1.000 1)">Spline</text>
<circle cx="517.2" cy="506.6" r="2.0" fill="#A23A2E"/>
<text class="t" text-anchor="start" transform="translate(523.00 509.10) scale(1.000 1)">Upper</text>
<circle cx="549.9" cy="506.6" r="2.0" fill="#01665E"/>
<text class="t" text-anchor="start" transform="translate(555.70 509.10) scale(1.000 1)">Lower</text>
</g>
</svg>
</body></html>
